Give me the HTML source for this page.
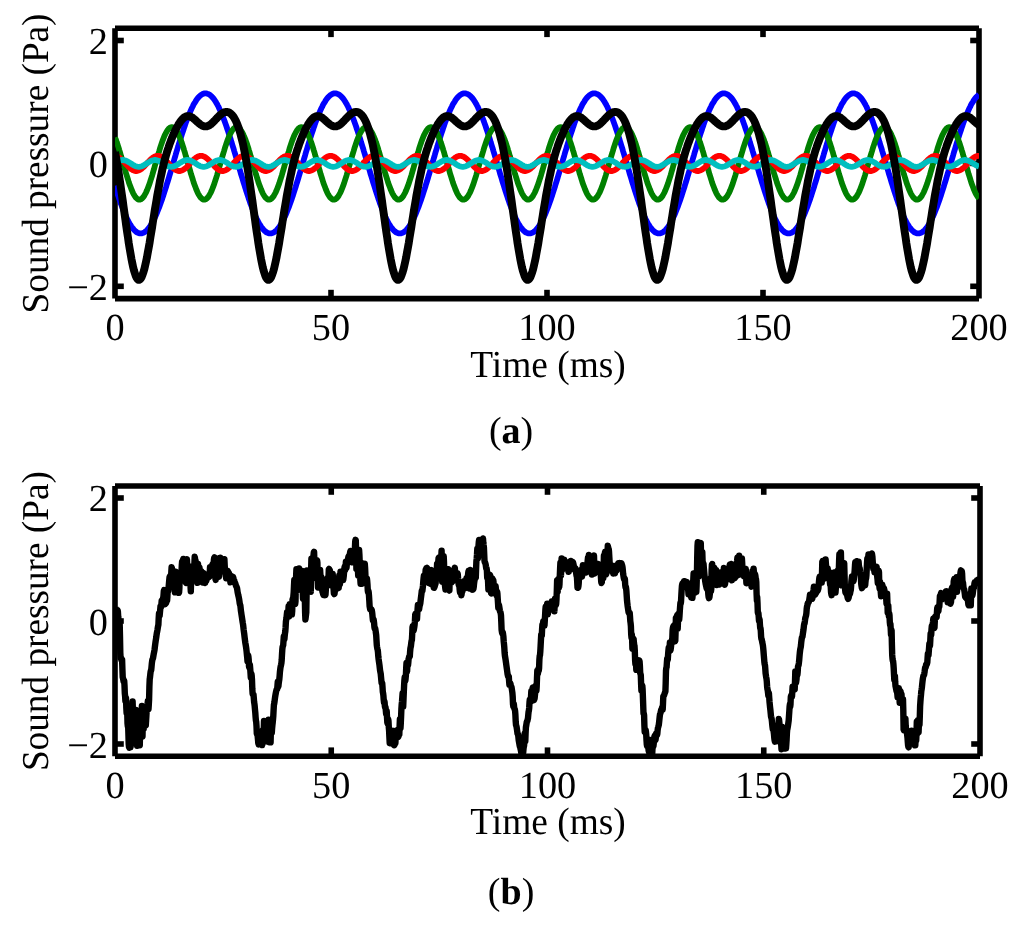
<!DOCTYPE html>
<html><head><meta charset="utf-8"><style>
html,body{margin:0;padding:0;background:#fff;}
body{width:1024px;height:932px;overflow:hidden;}
svg{display:block;will-change:transform;}
text{text-rendering:geometricPrecision;font-family:"Liberation Serif",serif;font-size:38px;fill:#000;}
</style></head><body>
<svg width="1024" height="932" viewBox="0 0 1024 932">
<g stroke="#000" stroke-width="5.60" stroke-linecap="butt"><line x1="115.0" y1="28.3" x2="979.0" y2="28.3"/><line x1="115.0" y1="298.6" x2="979.0" y2="298.6"/><line x1="115.0" y1="28.3" x2="115.0" y2="298.6"/><line x1="979.0" y1="28.3" x2="979.0" y2="298.6"/><line x1="331.00" y1="28.3" x2="331.00" y2="37.10"/><line x1="331.00" y1="298.6" x2="331.00" y2="289.80"/><line x1="547.00" y1="28.3" x2="547.00" y2="37.10"/><line x1="547.00" y1="298.6" x2="547.00" y2="289.80"/><line x1="763.00" y1="28.3" x2="763.00" y2="37.10"/><line x1="763.00" y1="298.6" x2="763.00" y2="289.80"/><line x1="115.0" y1="286.30" x2="123.80" y2="286.30"/><line x1="979.0" y1="286.30" x2="970.20" y2="286.30"/><line x1="115.0" y1="163.40" x2="123.80" y2="163.40"/><line x1="979.0" y1="163.40" x2="970.20" y2="163.40"/><line x1="115.0" y1="40.50" x2="123.80" y2="40.50"/><line x1="979.0" y1="40.50" x2="970.20" y2="40.50"/></g>
<defs><clipPath id="ct"><rect x="115.0" y="28.3" width="864.0" height="270.3"/></clipPath><clipPath id="cb"><rect x="115.0" y="486.0" width="865.0" height="270.20000000000005"/></clipPath></defs>
<g clip-path="url(#ct)"><path d="M115.0,185.7 L115.9,188.5 L116.7,191.2 L117.6,193.9 L118.5,196.5 L119.3,199.1 L120.2,201.6 L121.0,204.0 L121.9,206.3 L122.8,208.6 L123.6,210.8 L124.5,212.9 L125.4,215.0 L126.2,216.9 L127.1,218.8 L128.0,220.5 L128.8,222.2 L129.7,223.7 L130.6,225.1 L131.4,226.5 L132.3,227.7 L133.1,228.8 L134.0,229.8 L134.9,230.7 L135.7,231.4 L136.6,232.1 L137.5,232.6 L138.3,233.0 L139.2,233.3 L140.1,233.4 L140.9,233.4 L141.8,233.4 L142.6,233.1 L143.5,232.8 L144.4,232.3 L145.2,231.8 L146.1,231.1 L147.0,230.2 L147.8,229.3 L148.7,228.3 L149.6,227.1 L150.4,225.8 L151.3,224.4 L152.2,222.9 L153.0,221.3 L153.9,219.6 L154.7,217.8 L155.6,215.9 L156.5,214.0 L157.3,211.9 L158.2,209.7 L159.1,207.5 L159.9,205.2 L160.8,202.8 L161.7,200.3 L162.5,197.8 L163.4,195.2 L164.2,192.6 L165.1,189.9 L166.0,187.1 L166.8,184.3 L167.7,181.5 L168.6,178.7 L169.4,175.8 L170.3,172.9 L171.2,170.0 L172.0,167.1 L172.9,164.1 L173.8,161.2 L174.6,158.3 L175.5,155.3 L176.3,152.4 L177.2,149.6 L178.1,146.7 L178.9,143.9 L179.8,141.1 L180.7,138.3 L181.5,135.6 L182.4,132.9 L183.3,130.3 L184.1,127.7 L185.0,125.2 L185.8,122.8 L186.7,120.5 L187.6,118.2 L188.4,116.0 L189.3,113.9 L190.2,111.8 L191.0,109.9 L191.9,108.0 L192.8,106.3 L193.6,104.6 L194.5,103.1 L195.4,101.7 L196.2,100.3 L197.1,99.1 L197.9,98.0 L198.8,97.0 L199.7,96.1 L200.5,95.4 L201.4,94.7 L202.3,94.2 L203.1,93.8 L204.0,93.5 L204.9,93.4 L205.7,93.4 L206.6,93.4 L207.4,93.7 L208.3,94.0 L209.2,94.5 L210.0,95.0 L210.9,95.7 L211.8,96.6 L212.6,97.5 L213.5,98.5 L214.4,99.7 L215.2,101.0 L216.1,102.4 L217.0,103.9 L217.8,105.5 L218.7,107.2 L219.5,109.0 L220.4,110.9 L221.3,112.8 L222.1,114.9 L223.0,117.1 L223.9,119.3 L224.7,121.6 L225.6,124.0 L226.5,126.5 L227.3,129.0 L228.2,131.6 L229.0,134.2 L229.9,136.9 L230.8,139.7 L231.6,142.5 L232.5,145.3 L233.4,148.1 L234.2,151.0 L235.1,153.9 L236.0,156.8 L236.8,159.7 L237.7,162.7 L238.6,165.6 L239.4,168.5 L240.3,171.5 L241.1,174.4 L242.0,177.2 L242.9,180.1 L243.7,182.9 L244.6,185.7 L245.5,188.5 L246.3,191.2 L247.2,193.9 L248.1,196.5 L248.9,199.1 L249.8,201.6 L250.6,204.0 L251.5,206.3 L252.4,208.6 L253.2,210.8 L254.1,212.9 L255.0,215.0 L255.8,216.9 L256.7,218.8 L257.6,220.5 L258.4,222.2 L259.3,223.7 L260.2,225.1 L261.0,226.5 L261.9,227.7 L262.7,228.8 L263.6,229.8 L264.5,230.7 L265.3,231.4 L266.2,232.1 L267.1,232.6 L267.9,233.0 L268.8,233.3 L269.7,233.4 L270.5,233.4 L271.4,233.4 L272.2,233.1 L273.1,232.8 L274.0,232.3 L274.8,231.8 L275.7,231.1 L276.6,230.2 L277.4,229.3 L278.3,228.3 L279.2,227.1 L280.0,225.8 L280.9,224.4 L281.8,222.9 L282.6,221.3 L283.5,219.6 L284.3,217.8 L285.2,215.9 L286.1,214.0 L286.9,211.9 L287.8,209.7 L288.7,207.5 L289.5,205.2 L290.4,202.8 L291.3,200.3 L292.1,197.8 L293.0,195.2 L293.8,192.6 L294.7,189.9 L295.6,187.1 L296.4,184.3 L297.3,181.5 L298.2,178.7 L299.0,175.8 L299.9,172.9 L300.8,170.0 L301.6,167.1 L302.5,164.1 L303.4,161.2 L304.2,158.3 L305.1,155.3 L305.9,152.4 L306.8,149.6 L307.7,146.7 L308.5,143.9 L309.4,141.1 L310.3,138.3 L311.1,135.6 L312.0,132.9 L312.9,130.3 L313.7,127.7 L314.6,125.2 L315.4,122.8 L316.3,120.5 L317.2,118.2 L318.0,116.0 L318.9,113.9 L319.8,111.8 L320.6,109.9 L321.5,108.0 L322.4,106.3 L323.2,104.6 L324.1,103.1 L325.0,101.7 L325.8,100.3 L326.7,99.1 L327.5,98.0 L328.4,97.0 L329.3,96.1 L330.1,95.4 L331.0,94.7 L331.9,94.2 L332.7,93.8 L333.6,93.5 L334.5,93.4 L335.3,93.4 L336.2,93.4 L337.0,93.7 L337.9,94.0 L338.8,94.5 L339.6,95.0 L340.5,95.7 L341.4,96.6 L342.2,97.5 L343.1,98.5 L344.0,99.7 L344.8,101.0 L345.7,102.4 L346.6,103.9 L347.4,105.5 L348.3,107.2 L349.1,109.0 L350.0,110.9 L350.9,112.8 L351.7,114.9 L352.6,117.1 L353.5,119.3 L354.3,121.6 L355.2,124.0 L356.1,126.5 L356.9,129.0 L357.8,131.6 L358.6,134.2 L359.5,136.9 L360.4,139.7 L361.2,142.5 L362.1,145.3 L363.0,148.1 L363.8,151.0 L364.7,153.9 L365.6,156.8 L366.4,159.7 L367.3,162.7 L368.2,165.6 L369.0,168.5 L369.9,171.5 L370.7,174.4 L371.6,177.2 L372.5,180.1 L373.3,182.9 L374.2,185.7 L375.1,188.5 L375.9,191.2 L376.8,193.9 L377.7,196.5 L378.5,199.1 L379.4,201.6 L380.2,204.0 L381.1,206.3 L382.0,208.6 L382.8,210.8 L383.7,212.9 L384.6,215.0 L385.4,216.9 L386.3,218.8 L387.2,220.5 L388.0,222.2 L388.9,223.7 L389.8,225.1 L390.6,226.5 L391.5,227.7 L392.3,228.8 L393.2,229.8 L394.1,230.7 L394.9,231.4 L395.8,232.1 L396.7,232.6 L397.5,233.0 L398.4,233.3 L399.3,233.4 L400.1,233.4 L401.0,233.4 L401.8,233.1 L402.7,232.8 L403.6,232.3 L404.4,231.8 L405.3,231.1 L406.2,230.2 L407.0,229.3 L407.9,228.3 L408.8,227.1 L409.6,225.8 L410.5,224.4 L411.4,222.9 L412.2,221.3 L413.1,219.6 L413.9,217.8 L414.8,215.9 L415.7,214.0 L416.5,211.9 L417.4,209.7 L418.3,207.5 L419.1,205.2 L420.0,202.8 L420.9,200.3 L421.7,197.8 L422.6,195.2 L423.4,192.6 L424.3,189.9 L425.2,187.1 L426.0,184.3 L426.9,181.5 L427.8,178.7 L428.6,175.8 L429.5,172.9 L430.4,170.0 L431.2,167.1 L432.1,164.1 L433.0,161.2 L433.8,158.3 L434.7,155.3 L435.5,152.4 L436.4,149.6 L437.3,146.7 L438.1,143.9 L439.0,141.1 L439.9,138.3 L440.7,135.6 L441.6,132.9 L442.5,130.3 L443.3,127.7 L444.2,125.2 L445.0,122.8 L445.9,120.5 L446.8,118.2 L447.6,116.0 L448.5,113.9 L449.4,111.8 L450.2,109.9 L451.1,108.0 L452.0,106.3 L452.8,104.6 L453.7,103.1 L454.6,101.7 L455.4,100.3 L456.3,99.1 L457.1,98.0 L458.0,97.0 L458.9,96.1 L459.7,95.4 L460.6,94.7 L461.5,94.2 L462.3,93.8 L463.2,93.5 L464.1,93.4 L464.9,93.4 L465.8,93.4 L466.6,93.7 L467.5,94.0 L468.4,94.5 L469.2,95.0 L470.1,95.7 L471.0,96.6 L471.8,97.5 L472.7,98.5 L473.6,99.7 L474.4,101.0 L475.3,102.4 L476.2,103.9 L477.0,105.5 L477.9,107.2 L478.7,109.0 L479.6,110.9 L480.5,112.8 L481.3,114.9 L482.2,117.1 L483.1,119.3 L483.9,121.6 L484.8,124.0 L485.7,126.5 L486.5,129.0 L487.4,131.6 L488.2,134.2 L489.1,136.9 L490.0,139.7 L490.8,142.5 L491.7,145.3 L492.6,148.1 L493.4,151.0 L494.3,153.9 L495.2,156.8 L496.0,159.7 L496.9,162.7 L497.8,165.6 L498.6,168.5 L499.5,171.5 L500.3,174.4 L501.2,177.2 L502.1,180.1 L502.9,182.9 L503.8,185.7 L504.7,188.5 L505.5,191.2 L506.4,193.9 L507.3,196.5 L508.1,199.1 L509.0,201.6 L509.8,204.0 L510.7,206.3 L511.6,208.6 L512.4,210.8 L513.3,212.9 L514.2,215.0 L515.0,216.9 L515.9,218.8 L516.8,220.5 L517.6,222.2 L518.5,223.7 L519.4,225.1 L520.2,226.5 L521.1,227.7 L521.9,228.8 L522.8,229.8 L523.7,230.7 L524.5,231.4 L525.4,232.1 L526.3,232.6 L527.1,233.0 L528.0,233.3 L528.9,233.4 L529.7,233.4 L530.6,233.4 L531.4,233.1 L532.3,232.8 L533.2,232.3 L534.0,231.8 L534.9,231.1 L535.8,230.2 L536.6,229.3 L537.5,228.3 L538.4,227.1 L539.2,225.8 L540.1,224.4 L541.0,222.9 L541.8,221.3 L542.7,219.6 L543.5,217.8 L544.4,215.9 L545.3,214.0 L546.1,211.9 L547.0,209.7 L547.9,207.5 L548.7,205.2 L549.6,202.8 L550.5,200.3 L551.3,197.8 L552.2,195.2 L553.0,192.6 L553.9,189.9 L554.8,187.1 L555.6,184.3 L556.5,181.5 L557.4,178.7 L558.2,175.8 L559.1,172.9 L560.0,170.0 L560.8,167.1 L561.7,164.1 L562.6,161.2 L563.4,158.3 L564.3,155.3 L565.1,152.4 L566.0,149.6 L566.9,146.7 L567.7,143.9 L568.6,141.1 L569.5,138.3 L570.3,135.6 L571.2,132.9 L572.1,130.3 L572.9,127.7 L573.8,125.2 L574.6,122.8 L575.5,120.5 L576.4,118.2 L577.2,116.0 L578.1,113.9 L579.0,111.8 L579.8,109.9 L580.7,108.0 L581.6,106.3 L582.4,104.6 L583.3,103.1 L584.2,101.7 L585.0,100.3 L585.9,99.1 L586.7,98.0 L587.6,97.0 L588.5,96.1 L589.3,95.4 L590.2,94.7 L591.1,94.2 L591.9,93.8 L592.8,93.5 L593.7,93.4 L594.5,93.4 L595.4,93.4 L596.2,93.7 L597.1,94.0 L598.0,94.5 L598.8,95.0 L599.7,95.7 L600.6,96.6 L601.4,97.5 L602.3,98.5 L603.2,99.7 L604.0,101.0 L604.9,102.4 L605.8,103.9 L606.6,105.5 L607.5,107.2 L608.3,109.0 L609.2,110.9 L610.1,112.8 L610.9,114.9 L611.8,117.1 L612.7,119.3 L613.5,121.6 L614.4,124.0 L615.3,126.5 L616.1,129.0 L617.0,131.6 L617.8,134.2 L618.7,136.9 L619.6,139.7 L620.4,142.5 L621.3,145.3 L622.2,148.1 L623.0,151.0 L623.9,153.9 L624.8,156.8 L625.6,159.7 L626.5,162.7 L627.4,165.6 L628.2,168.5 L629.1,171.5 L629.9,174.4 L630.8,177.2 L631.7,180.1 L632.5,182.9 L633.4,185.7 L634.3,188.5 L635.1,191.2 L636.0,193.9 L636.9,196.5 L637.7,199.1 L638.6,201.6 L639.4,204.0 L640.3,206.3 L641.2,208.6 L642.0,210.8 L642.9,212.9 L643.8,215.0 L644.6,216.9 L645.5,218.8 L646.4,220.5 L647.2,222.2 L648.1,223.7 L649.0,225.1 L649.8,226.5 L650.7,227.7 L651.5,228.8 L652.4,229.8 L653.3,230.7 L654.1,231.4 L655.0,232.1 L655.9,232.6 L656.7,233.0 L657.6,233.3 L658.5,233.4 L659.3,233.4 L660.2,233.4 L661.0,233.1 L661.9,232.8 L662.8,232.3 L663.6,231.8 L664.5,231.1 L665.4,230.2 L666.2,229.3 L667.1,228.3 L668.0,227.1 L668.8,225.8 L669.7,224.4 L670.6,222.9 L671.4,221.3 L672.3,219.6 L673.1,217.8 L674.0,215.9 L674.9,214.0 L675.7,211.9 L676.6,209.7 L677.5,207.5 L678.3,205.2 L679.2,202.8 L680.1,200.3 L680.9,197.8 L681.8,195.2 L682.6,192.6 L683.5,189.9 L684.4,187.1 L685.2,184.3 L686.1,181.5 L687.0,178.7 L687.8,175.8 L688.7,172.9 L689.6,170.0 L690.4,167.1 L691.3,164.1 L692.2,161.2 L693.0,158.3 L693.9,155.3 L694.7,152.4 L695.6,149.6 L696.5,146.7 L697.3,143.9 L698.2,141.1 L699.1,138.3 L699.9,135.6 L700.8,132.9 L701.7,130.3 L702.5,127.7 L703.4,125.2 L704.2,122.8 L705.1,120.5 L706.0,118.2 L706.8,116.0 L707.7,113.9 L708.6,111.8 L709.4,109.9 L710.3,108.0 L711.2,106.3 L712.0,104.6 L712.9,103.1 L713.8,101.7 L714.6,100.3 L715.5,99.1 L716.3,98.0 L717.2,97.0 L718.1,96.1 L718.9,95.4 L719.8,94.7 L720.7,94.2 L721.5,93.8 L722.4,93.5 L723.3,93.4 L724.1,93.4 L725.0,93.4 L725.8,93.7 L726.7,94.0 L727.6,94.5 L728.4,95.0 L729.3,95.7 L730.2,96.6 L731.0,97.5 L731.9,98.5 L732.8,99.7 L733.6,101.0 L734.5,102.4 L735.4,103.9 L736.2,105.5 L737.1,107.2 L737.9,109.0 L738.8,110.9 L739.7,112.8 L740.5,114.9 L741.4,117.1 L742.3,119.3 L743.1,121.6 L744.0,124.0 L744.9,126.5 L745.7,129.0 L746.6,131.6 L747.4,134.2 L748.3,136.9 L749.2,139.7 L750.0,142.5 L750.9,145.3 L751.8,148.1 L752.6,151.0 L753.5,153.9 L754.4,156.8 L755.2,159.7 L756.1,162.7 L757.0,165.6 L757.8,168.5 L758.7,171.5 L759.5,174.4 L760.4,177.2 L761.3,180.1 L762.1,182.9 L763.0,185.7 L763.9,188.5 L764.7,191.2 L765.6,193.9 L766.5,196.5 L767.3,199.1 L768.2,201.6 L769.0,204.0 L769.9,206.3 L770.8,208.6 L771.6,210.8 L772.5,212.9 L773.4,215.0 L774.2,216.9 L775.1,218.8 L776.0,220.5 L776.8,222.2 L777.7,223.7 L778.6,225.1 L779.4,226.5 L780.3,227.7 L781.1,228.8 L782.0,229.8 L782.9,230.7 L783.7,231.4 L784.6,232.1 L785.5,232.6 L786.3,233.0 L787.2,233.3 L788.1,233.4 L788.9,233.4 L789.8,233.4 L790.6,233.1 L791.5,232.8 L792.4,232.3 L793.2,231.8 L794.1,231.1 L795.0,230.2 L795.8,229.3 L796.7,228.3 L797.6,227.1 L798.4,225.8 L799.3,224.4 L800.2,222.9 L801.0,221.3 L801.9,219.6 L802.7,217.8 L803.6,215.9 L804.5,214.0 L805.3,211.9 L806.2,209.7 L807.1,207.5 L807.9,205.2 L808.8,202.8 L809.7,200.3 L810.5,197.8 L811.4,195.2 L812.2,192.6 L813.1,189.9 L814.0,187.1 L814.8,184.3 L815.7,181.5 L816.6,178.7 L817.4,175.8 L818.3,172.9 L819.2,170.0 L820.0,167.1 L820.9,164.1 L821.8,161.2 L822.6,158.3 L823.5,155.3 L824.3,152.4 L825.2,149.6 L826.1,146.7 L826.9,143.9 L827.8,141.1 L828.7,138.3 L829.5,135.6 L830.4,132.9 L831.3,130.3 L832.1,127.7 L833.0,125.2 L833.8,122.8 L834.7,120.5 L835.6,118.2 L836.4,116.0 L837.3,113.9 L838.2,111.8 L839.0,109.9 L839.9,108.0 L840.8,106.3 L841.6,104.6 L842.5,103.1 L843.4,101.7 L844.2,100.3 L845.1,99.1 L845.9,98.0 L846.8,97.0 L847.7,96.1 L848.5,95.4 L849.4,94.7 L850.3,94.2 L851.1,93.8 L852.0,93.5 L852.9,93.4 L853.7,93.4 L854.6,93.4 L855.4,93.7 L856.3,94.0 L857.2,94.5 L858.0,95.0 L858.9,95.7 L859.8,96.6 L860.6,97.5 L861.5,98.5 L862.4,99.7 L863.2,101.0 L864.1,102.4 L865.0,103.9 L865.8,105.5 L866.7,107.2 L867.5,109.0 L868.4,110.9 L869.3,112.8 L870.1,114.9 L871.0,117.1 L871.9,119.3 L872.7,121.6 L873.6,124.0 L874.5,126.5 L875.3,129.0 L876.2,131.6 L877.0,134.2 L877.9,136.9 L878.8,139.7 L879.6,142.5 L880.5,145.3 L881.4,148.1 L882.2,151.0 L883.1,153.9 L884.0,156.8 L884.8,159.7 L885.7,162.7 L886.6,165.6 L887.4,168.5 L888.3,171.5 L889.1,174.4 L890.0,177.2 L890.9,180.1 L891.7,182.9 L892.6,185.7 L893.5,188.5 L894.3,191.2 L895.2,193.9 L896.1,196.5 L896.9,199.1 L897.8,201.6 L898.6,204.0 L899.5,206.3 L900.4,208.6 L901.2,210.8 L902.1,212.9 L903.0,215.0 L903.8,216.9 L904.7,218.8 L905.6,220.5 L906.4,222.2 L907.3,223.7 L908.2,225.1 L909.0,226.5 L909.9,227.7 L910.7,228.8 L911.6,229.8 L912.5,230.7 L913.3,231.4 L914.2,232.1 L915.1,232.6 L915.9,233.0 L916.8,233.3 L917.7,233.4 L918.5,233.4 L919.4,233.4 L920.2,233.1 L921.1,232.8 L922.0,232.3 L922.8,231.8 L923.7,231.1 L924.6,230.2 L925.4,229.3 L926.3,228.3 L927.2,227.1 L928.0,225.8 L928.9,224.4 L929.8,222.9 L930.6,221.3 L931.5,219.6 L932.3,217.8 L933.2,215.9 L934.1,214.0 L934.9,211.9 L935.8,209.7 L936.7,207.5 L937.5,205.2 L938.4,202.8 L939.3,200.3 L940.1,197.8 L941.0,195.2 L941.8,192.6 L942.7,189.9 L943.6,187.1 L944.4,184.3 L945.3,181.5 L946.2,178.7 L947.0,175.8 L947.9,172.9 L948.8,170.0 L949.6,167.1 L950.5,164.1 L951.4,161.2 L952.2,158.3 L953.1,155.3 L953.9,152.4 L954.8,149.6 L955.7,146.7 L956.5,143.9 L957.4,141.1 L958.3,138.3 L959.1,135.6 L960.0,132.9 L960.9,130.3 L961.7,127.7 L962.6,125.2 L963.4,122.8 L964.3,120.5 L965.2,118.2 L966.0,116.0 L966.9,113.9 L967.8,111.8 L968.6,109.9 L969.5,108.0 L970.4,106.3 L971.2,104.6 L972.1,103.1 L973.0,101.7 L973.8,100.3 L974.7,99.1 L975.5,98.0 L976.4,97.0 L977.3,96.1 L978.1,95.4 L979.0,94.7" fill="none" stroke="#0000ff" stroke-width="5.8" stroke-linejoin="round"/>
<path d="M115.0,137.5 L115.9,139.7 L116.7,142.1 L117.6,144.6 L118.5,147.3 L119.3,150.1 L120.2,152.9 L121.0,155.9 L121.9,158.9 L122.8,161.9 L123.6,164.9 L124.5,167.9 L125.4,170.9 L126.2,173.9 L127.1,176.7 L128.0,179.5 L128.8,182.2 L129.7,184.7 L130.6,187.1 L131.4,189.3 L132.3,191.3 L133.1,193.2 L134.0,194.8 L134.9,196.2 L135.7,197.4 L136.6,198.3 L137.5,199.0 L138.3,199.5 L139.2,199.6 L140.1,199.6 L140.9,199.3 L141.8,198.7 L142.6,197.9 L143.5,196.8 L144.4,195.5 L145.2,194.0 L146.1,192.3 L147.0,190.3 L147.8,188.2 L148.7,185.9 L149.6,183.5 L150.4,180.9 L151.3,178.1 L152.2,175.3 L153.0,172.4 L153.9,169.4 L154.7,166.4 L155.6,163.4 L156.5,160.4 L157.3,157.4 L158.2,154.4 L159.1,151.5 L159.9,148.7 L160.8,145.9 L161.7,143.3 L162.5,140.9 L163.4,138.6 L164.2,136.5 L165.1,134.5 L166.0,132.8 L166.8,131.3 L167.7,130.0 L168.6,128.9 L169.4,128.1 L170.3,127.5 L171.2,127.2 L172.0,127.2 L172.9,127.3 L173.8,127.8 L174.6,128.5 L175.5,129.4 L176.3,130.6 L177.2,132.0 L178.1,133.6 L178.9,135.5 L179.8,137.5 L180.7,139.7 L181.5,142.1 L182.4,144.6 L183.3,147.3 L184.1,150.1 L185.0,152.9 L185.8,155.9 L186.7,158.9 L187.6,161.9 L188.4,164.9 L189.3,167.9 L190.2,170.9 L191.0,173.9 L191.9,176.7 L192.8,179.5 L193.6,182.2 L194.5,184.7 L195.4,187.1 L196.2,189.3 L197.1,191.3 L197.9,193.2 L198.8,194.8 L199.7,196.2 L200.5,197.4 L201.4,198.3 L202.3,199.0 L203.1,199.5 L204.0,199.6 L204.9,199.6 L205.7,199.3 L206.6,198.7 L207.4,197.9 L208.3,196.8 L209.2,195.5 L210.0,194.0 L210.9,192.3 L211.8,190.3 L212.6,188.2 L213.5,185.9 L214.4,183.5 L215.2,180.9 L216.1,178.1 L217.0,175.3 L217.8,172.4 L218.7,169.4 L219.5,166.4 L220.4,163.4 L221.3,160.4 L222.1,157.4 L223.0,154.4 L223.9,151.5 L224.7,148.7 L225.6,145.9 L226.5,143.3 L227.3,140.9 L228.2,138.6 L229.0,136.5 L229.9,134.5 L230.8,132.8 L231.6,131.3 L232.5,130.0 L233.4,128.9 L234.2,128.1 L235.1,127.5 L236.0,127.2 L236.8,127.2 L237.7,127.3 L238.6,127.8 L239.4,128.5 L240.3,129.4 L241.1,130.6 L242.0,132.0 L242.9,133.6 L243.7,135.5 L244.6,137.5 L245.5,139.7 L246.3,142.1 L247.2,144.6 L248.1,147.3 L248.9,150.1 L249.8,152.9 L250.6,155.9 L251.5,158.9 L252.4,161.9 L253.2,164.9 L254.1,167.9 L255.0,170.9 L255.8,173.9 L256.7,176.7 L257.6,179.5 L258.4,182.2 L259.3,184.7 L260.2,187.1 L261.0,189.3 L261.9,191.3 L262.7,193.2 L263.6,194.8 L264.5,196.2 L265.3,197.4 L266.2,198.3 L267.1,199.0 L267.9,199.5 L268.8,199.6 L269.7,199.6 L270.5,199.3 L271.4,198.7 L272.2,197.9 L273.1,196.8 L274.0,195.5 L274.8,194.0 L275.7,192.3 L276.6,190.3 L277.4,188.2 L278.3,185.9 L279.2,183.5 L280.0,180.9 L280.9,178.1 L281.8,175.3 L282.6,172.4 L283.5,169.4 L284.3,166.4 L285.2,163.4 L286.1,160.4 L286.9,157.4 L287.8,154.4 L288.7,151.5 L289.5,148.7 L290.4,145.9 L291.3,143.3 L292.1,140.9 L293.0,138.6 L293.8,136.5 L294.7,134.5 L295.6,132.8 L296.4,131.3 L297.3,130.0 L298.2,128.9 L299.0,128.1 L299.9,127.5 L300.8,127.2 L301.6,127.2 L302.5,127.3 L303.4,127.8 L304.2,128.5 L305.1,129.4 L305.9,130.6 L306.8,132.0 L307.7,133.6 L308.5,135.5 L309.4,137.5 L310.3,139.7 L311.1,142.1 L312.0,144.6 L312.9,147.3 L313.7,150.1 L314.6,152.9 L315.4,155.9 L316.3,158.9 L317.2,161.9 L318.0,164.9 L318.9,167.9 L319.8,170.9 L320.6,173.9 L321.5,176.7 L322.4,179.5 L323.2,182.2 L324.1,184.7 L325.0,187.1 L325.8,189.3 L326.7,191.3 L327.5,193.2 L328.4,194.8 L329.3,196.2 L330.1,197.4 L331.0,198.3 L331.9,199.0 L332.7,199.5 L333.6,199.6 L334.5,199.6 L335.3,199.3 L336.2,198.7 L337.0,197.9 L337.9,196.8 L338.8,195.5 L339.6,194.0 L340.5,192.3 L341.4,190.3 L342.2,188.2 L343.1,185.9 L344.0,183.5 L344.8,180.9 L345.7,178.1 L346.6,175.3 L347.4,172.4 L348.3,169.4 L349.1,166.4 L350.0,163.4 L350.9,160.4 L351.7,157.4 L352.6,154.4 L353.5,151.5 L354.3,148.7 L355.2,145.9 L356.1,143.3 L356.9,140.9 L357.8,138.6 L358.6,136.5 L359.5,134.5 L360.4,132.8 L361.2,131.3 L362.1,130.0 L363.0,128.9 L363.8,128.1 L364.7,127.5 L365.6,127.2 L366.4,127.2 L367.3,127.3 L368.2,127.8 L369.0,128.5 L369.9,129.4 L370.7,130.6 L371.6,132.0 L372.5,133.6 L373.3,135.5 L374.2,137.5 L375.1,139.7 L375.9,142.1 L376.8,144.6 L377.7,147.3 L378.5,150.1 L379.4,152.9 L380.2,155.9 L381.1,158.9 L382.0,161.9 L382.8,164.9 L383.7,167.9 L384.6,170.9 L385.4,173.9 L386.3,176.7 L387.2,179.5 L388.0,182.2 L388.9,184.7 L389.8,187.1 L390.6,189.3 L391.5,191.3 L392.3,193.2 L393.2,194.8 L394.1,196.2 L394.9,197.4 L395.8,198.3 L396.7,199.0 L397.5,199.5 L398.4,199.6 L399.3,199.6 L400.1,199.3 L401.0,198.7 L401.8,197.9 L402.7,196.8 L403.6,195.5 L404.4,194.0 L405.3,192.3 L406.2,190.3 L407.0,188.2 L407.9,185.9 L408.8,183.5 L409.6,180.9 L410.5,178.1 L411.4,175.3 L412.2,172.4 L413.1,169.4 L413.9,166.4 L414.8,163.4 L415.7,160.4 L416.5,157.4 L417.4,154.4 L418.3,151.5 L419.1,148.7 L420.0,145.9 L420.9,143.3 L421.7,140.9 L422.6,138.6 L423.4,136.5 L424.3,134.5 L425.2,132.8 L426.0,131.3 L426.9,130.0 L427.8,128.9 L428.6,128.1 L429.5,127.5 L430.4,127.2 L431.2,127.2 L432.1,127.3 L433.0,127.8 L433.8,128.5 L434.7,129.4 L435.5,130.6 L436.4,132.0 L437.3,133.6 L438.1,135.5 L439.0,137.5 L439.9,139.7 L440.7,142.1 L441.6,144.6 L442.5,147.3 L443.3,150.1 L444.2,152.9 L445.0,155.9 L445.9,158.9 L446.8,161.9 L447.6,164.9 L448.5,167.9 L449.4,170.9 L450.2,173.9 L451.1,176.7 L452.0,179.5 L452.8,182.2 L453.7,184.7 L454.6,187.1 L455.4,189.3 L456.3,191.3 L457.1,193.2 L458.0,194.8 L458.9,196.2 L459.7,197.4 L460.6,198.3 L461.5,199.0 L462.3,199.5 L463.2,199.6 L464.1,199.6 L464.9,199.3 L465.8,198.7 L466.6,197.9 L467.5,196.8 L468.4,195.5 L469.2,194.0 L470.1,192.3 L471.0,190.3 L471.8,188.2 L472.7,185.9 L473.6,183.5 L474.4,180.9 L475.3,178.1 L476.2,175.3 L477.0,172.4 L477.9,169.4 L478.7,166.4 L479.6,163.4 L480.5,160.4 L481.3,157.4 L482.2,154.4 L483.1,151.5 L483.9,148.7 L484.8,145.9 L485.7,143.3 L486.5,140.9 L487.4,138.6 L488.2,136.5 L489.1,134.5 L490.0,132.8 L490.8,131.3 L491.7,130.0 L492.6,128.9 L493.4,128.1 L494.3,127.5 L495.2,127.2 L496.0,127.2 L496.9,127.3 L497.8,127.8 L498.6,128.5 L499.5,129.4 L500.3,130.6 L501.2,132.0 L502.1,133.6 L502.9,135.5 L503.8,137.5 L504.7,139.7 L505.5,142.1 L506.4,144.6 L507.3,147.3 L508.1,150.1 L509.0,152.9 L509.8,155.9 L510.7,158.9 L511.6,161.9 L512.4,164.9 L513.3,167.9 L514.2,170.9 L515.0,173.9 L515.9,176.7 L516.8,179.5 L517.6,182.2 L518.5,184.7 L519.4,187.1 L520.2,189.3 L521.1,191.3 L521.9,193.2 L522.8,194.8 L523.7,196.2 L524.5,197.4 L525.4,198.3 L526.3,199.0 L527.1,199.5 L528.0,199.6 L528.9,199.6 L529.7,199.3 L530.6,198.7 L531.4,197.9 L532.3,196.8 L533.2,195.5 L534.0,194.0 L534.9,192.3 L535.8,190.3 L536.6,188.2 L537.5,185.9 L538.4,183.5 L539.2,180.9 L540.1,178.1 L541.0,175.3 L541.8,172.4 L542.7,169.4 L543.5,166.4 L544.4,163.4 L545.3,160.4 L546.1,157.4 L547.0,154.4 L547.9,151.5 L548.7,148.7 L549.6,145.9 L550.5,143.3 L551.3,140.9 L552.2,138.6 L553.0,136.5 L553.9,134.5 L554.8,132.8 L555.6,131.3 L556.5,130.0 L557.4,128.9 L558.2,128.1 L559.1,127.5 L560.0,127.2 L560.8,127.2 L561.7,127.3 L562.6,127.8 L563.4,128.5 L564.3,129.4 L565.1,130.6 L566.0,132.0 L566.9,133.6 L567.7,135.5 L568.6,137.5 L569.5,139.7 L570.3,142.1 L571.2,144.6 L572.1,147.3 L572.9,150.1 L573.8,152.9 L574.6,155.9 L575.5,158.9 L576.4,161.9 L577.2,164.9 L578.1,167.9 L579.0,170.9 L579.8,173.9 L580.7,176.7 L581.6,179.5 L582.4,182.2 L583.3,184.7 L584.2,187.1 L585.0,189.3 L585.9,191.3 L586.7,193.2 L587.6,194.8 L588.5,196.2 L589.3,197.4 L590.2,198.3 L591.1,199.0 L591.9,199.5 L592.8,199.6 L593.7,199.6 L594.5,199.3 L595.4,198.7 L596.2,197.9 L597.1,196.8 L598.0,195.5 L598.8,194.0 L599.7,192.3 L600.6,190.3 L601.4,188.2 L602.3,185.9 L603.2,183.5 L604.0,180.9 L604.9,178.1 L605.8,175.3 L606.6,172.4 L607.5,169.4 L608.3,166.4 L609.2,163.4 L610.1,160.4 L610.9,157.4 L611.8,154.4 L612.7,151.5 L613.5,148.7 L614.4,145.9 L615.3,143.3 L616.1,140.9 L617.0,138.6 L617.8,136.5 L618.7,134.5 L619.6,132.8 L620.4,131.3 L621.3,130.0 L622.2,128.9 L623.0,128.1 L623.9,127.5 L624.8,127.2 L625.6,127.2 L626.5,127.3 L627.4,127.8 L628.2,128.5 L629.1,129.4 L629.9,130.6 L630.8,132.0 L631.7,133.6 L632.5,135.5 L633.4,137.5 L634.3,139.7 L635.1,142.1 L636.0,144.6 L636.9,147.3 L637.7,150.1 L638.6,152.9 L639.4,155.9 L640.3,158.9 L641.2,161.9 L642.0,164.9 L642.9,167.9 L643.8,170.9 L644.6,173.9 L645.5,176.7 L646.4,179.5 L647.2,182.2 L648.1,184.7 L649.0,187.1 L649.8,189.3 L650.7,191.3 L651.5,193.2 L652.4,194.8 L653.3,196.2 L654.1,197.4 L655.0,198.3 L655.9,199.0 L656.7,199.5 L657.6,199.6 L658.5,199.6 L659.3,199.3 L660.2,198.7 L661.0,197.9 L661.9,196.8 L662.8,195.5 L663.6,194.0 L664.5,192.3 L665.4,190.3 L666.2,188.2 L667.1,185.9 L668.0,183.5 L668.8,180.9 L669.7,178.1 L670.6,175.3 L671.4,172.4 L672.3,169.4 L673.1,166.4 L674.0,163.4 L674.9,160.4 L675.7,157.4 L676.6,154.4 L677.5,151.5 L678.3,148.7 L679.2,145.9 L680.1,143.3 L680.9,140.9 L681.8,138.6 L682.6,136.5 L683.5,134.5 L684.4,132.8 L685.2,131.3 L686.1,130.0 L687.0,128.9 L687.8,128.1 L688.7,127.5 L689.6,127.2 L690.4,127.2 L691.3,127.3 L692.2,127.8 L693.0,128.5 L693.9,129.4 L694.7,130.6 L695.6,132.0 L696.5,133.6 L697.3,135.5 L698.2,137.5 L699.1,139.7 L699.9,142.1 L700.8,144.6 L701.7,147.3 L702.5,150.1 L703.4,152.9 L704.2,155.9 L705.1,158.9 L706.0,161.9 L706.8,164.9 L707.7,167.9 L708.6,170.9 L709.4,173.9 L710.3,176.7 L711.2,179.5 L712.0,182.2 L712.9,184.7 L713.8,187.1 L714.6,189.3 L715.5,191.3 L716.3,193.2 L717.2,194.8 L718.1,196.2 L718.9,197.4 L719.8,198.3 L720.7,199.0 L721.5,199.5 L722.4,199.6 L723.3,199.6 L724.1,199.3 L725.0,198.7 L725.8,197.9 L726.7,196.8 L727.6,195.5 L728.4,194.0 L729.3,192.3 L730.2,190.3 L731.0,188.2 L731.9,185.9 L732.8,183.5 L733.6,180.9 L734.5,178.1 L735.4,175.3 L736.2,172.4 L737.1,169.4 L737.9,166.4 L738.8,163.4 L739.7,160.4 L740.5,157.4 L741.4,154.4 L742.3,151.5 L743.1,148.7 L744.0,145.9 L744.9,143.3 L745.7,140.9 L746.6,138.6 L747.4,136.5 L748.3,134.5 L749.2,132.8 L750.0,131.3 L750.9,130.0 L751.8,128.9 L752.6,128.1 L753.5,127.5 L754.4,127.2 L755.2,127.2 L756.1,127.3 L757.0,127.8 L757.8,128.5 L758.7,129.4 L759.5,130.6 L760.4,132.0 L761.3,133.6 L762.1,135.5 L763.0,137.5 L763.9,139.7 L764.7,142.1 L765.6,144.6 L766.5,147.3 L767.3,150.1 L768.2,152.9 L769.0,155.9 L769.9,158.9 L770.8,161.9 L771.6,164.9 L772.5,167.9 L773.4,170.9 L774.2,173.9 L775.1,176.7 L776.0,179.5 L776.8,182.2 L777.7,184.7 L778.6,187.1 L779.4,189.3 L780.3,191.3 L781.1,193.2 L782.0,194.8 L782.9,196.2 L783.7,197.4 L784.6,198.3 L785.5,199.0 L786.3,199.5 L787.2,199.6 L788.1,199.6 L788.9,199.3 L789.8,198.7 L790.6,197.9 L791.5,196.8 L792.4,195.5 L793.2,194.0 L794.1,192.3 L795.0,190.3 L795.8,188.2 L796.7,185.9 L797.6,183.5 L798.4,180.9 L799.3,178.1 L800.2,175.3 L801.0,172.4 L801.9,169.4 L802.7,166.4 L803.6,163.4 L804.5,160.4 L805.3,157.4 L806.2,154.4 L807.1,151.5 L807.9,148.7 L808.8,145.9 L809.7,143.3 L810.5,140.9 L811.4,138.6 L812.2,136.5 L813.1,134.5 L814.0,132.8 L814.8,131.3 L815.7,130.0 L816.6,128.9 L817.4,128.1 L818.3,127.5 L819.2,127.2 L820.0,127.2 L820.9,127.3 L821.8,127.8 L822.6,128.5 L823.5,129.4 L824.3,130.6 L825.2,132.0 L826.1,133.6 L826.9,135.5 L827.8,137.5 L828.7,139.7 L829.5,142.1 L830.4,144.6 L831.3,147.3 L832.1,150.1 L833.0,152.9 L833.8,155.9 L834.7,158.9 L835.6,161.9 L836.4,164.9 L837.3,167.9 L838.2,170.9 L839.0,173.9 L839.9,176.7 L840.8,179.5 L841.6,182.2 L842.5,184.7 L843.4,187.1 L844.2,189.3 L845.1,191.3 L845.9,193.2 L846.8,194.8 L847.7,196.2 L848.5,197.4 L849.4,198.3 L850.3,199.0 L851.1,199.5 L852.0,199.6 L852.9,199.6 L853.7,199.3 L854.6,198.7 L855.4,197.9 L856.3,196.8 L857.2,195.5 L858.0,194.0 L858.9,192.3 L859.8,190.3 L860.6,188.2 L861.5,185.9 L862.4,183.5 L863.2,180.9 L864.1,178.1 L865.0,175.3 L865.8,172.4 L866.7,169.4 L867.5,166.4 L868.4,163.4 L869.3,160.4 L870.1,157.4 L871.0,154.4 L871.9,151.5 L872.7,148.7 L873.6,145.9 L874.5,143.3 L875.3,140.9 L876.2,138.6 L877.0,136.5 L877.9,134.5 L878.8,132.8 L879.6,131.3 L880.5,130.0 L881.4,128.9 L882.2,128.1 L883.1,127.5 L884.0,127.2 L884.8,127.2 L885.7,127.3 L886.6,127.8 L887.4,128.5 L888.3,129.4 L889.1,130.6 L890.0,132.0 L890.9,133.6 L891.7,135.5 L892.6,137.5 L893.5,139.7 L894.3,142.1 L895.2,144.6 L896.1,147.3 L896.9,150.1 L897.8,152.9 L898.6,155.9 L899.5,158.9 L900.4,161.9 L901.2,164.9 L902.1,167.9 L903.0,170.9 L903.8,173.9 L904.7,176.7 L905.6,179.5 L906.4,182.2 L907.3,184.7 L908.2,187.1 L909.0,189.3 L909.9,191.3 L910.7,193.2 L911.6,194.8 L912.5,196.2 L913.3,197.4 L914.2,198.3 L915.1,199.0 L915.9,199.5 L916.8,199.6 L917.7,199.6 L918.5,199.3 L919.4,198.7 L920.2,197.9 L921.1,196.8 L922.0,195.5 L922.8,194.0 L923.7,192.3 L924.6,190.3 L925.4,188.2 L926.3,185.9 L927.2,183.5 L928.0,180.9 L928.9,178.1 L929.8,175.3 L930.6,172.4 L931.5,169.4 L932.3,166.4 L933.2,163.4 L934.1,160.4 L934.9,157.4 L935.8,154.4 L936.7,151.5 L937.5,148.7 L938.4,145.9 L939.3,143.3 L940.1,140.9 L941.0,138.6 L941.8,136.5 L942.7,134.5 L943.6,132.8 L944.4,131.3 L945.3,130.0 L946.2,128.9 L947.0,128.1 L947.9,127.5 L948.8,127.2 L949.6,127.2 L950.5,127.3 L951.4,127.8 L952.2,128.5 L953.1,129.4 L953.9,130.6 L954.8,132.0 L955.7,133.6 L956.5,135.5 L957.4,137.5 L958.3,139.7 L959.1,142.1 L960.0,144.6 L960.9,147.3 L961.7,150.1 L962.6,152.9 L963.4,155.9 L964.3,158.9 L965.2,161.9 L966.0,164.9 L966.9,167.9 L967.8,170.9 L968.6,173.9 L969.5,176.7 L970.4,179.5 L971.2,182.2 L972.1,184.7 L973.0,187.1 L973.8,189.3 L974.7,191.3 L975.5,193.2 L976.4,194.8 L977.3,196.2 L978.1,197.4 L979.0,198.3" fill="none" stroke="#008000" stroke-width="5.8" stroke-linejoin="round"/>
<path d="M115.0,155.8 L115.9,155.9 L116.7,156.2 L117.6,156.5 L118.5,157.0 L119.3,157.5 L120.2,158.2 L121.0,158.9 L121.9,159.7 L122.8,160.6 L123.6,161.5 L124.5,162.4 L125.4,163.4 L126.2,164.4 L127.1,165.3 L128.0,166.2 L128.8,167.1 L129.7,167.9 L130.6,168.6 L131.4,169.3 L132.3,169.8 L133.1,170.3 L134.0,170.6 L134.9,170.9 L135.7,171.0 L136.6,171.0 L137.5,170.9 L138.3,170.6 L139.2,170.3 L140.1,169.8 L140.9,169.3 L141.8,168.6 L142.6,167.9 L143.5,167.1 L144.4,166.2 L145.2,165.3 L146.1,164.4 L147.0,163.4 L147.8,162.4 L148.7,161.5 L149.6,160.6 L150.4,159.7 L151.3,158.9 L152.2,158.2 L153.0,157.5 L153.9,157.0 L154.7,156.5 L155.6,156.2 L156.5,155.9 L157.3,155.8 L158.2,155.8 L159.1,155.9 L159.9,156.2 L160.8,156.5 L161.7,157.0 L162.5,157.5 L163.4,158.2 L164.2,158.9 L165.1,159.7 L166.0,160.6 L166.8,161.5 L167.7,162.4 L168.6,163.4 L169.4,164.4 L170.3,165.3 L171.2,166.2 L172.0,167.1 L172.9,167.9 L173.8,168.6 L174.6,169.3 L175.5,169.8 L176.3,170.3 L177.2,170.6 L178.1,170.9 L178.9,171.0 L179.8,171.0 L180.7,170.9 L181.5,170.6 L182.4,170.3 L183.3,169.8 L184.1,169.3 L185.0,168.6 L185.8,167.9 L186.7,167.1 L187.6,166.2 L188.4,165.3 L189.3,164.4 L190.2,163.4 L191.0,162.4 L191.9,161.5 L192.8,160.6 L193.6,159.7 L194.5,158.9 L195.4,158.2 L196.2,157.5 L197.1,157.0 L197.9,156.5 L198.8,156.2 L199.7,155.9 L200.5,155.8 L201.4,155.8 L202.3,155.9 L203.1,156.2 L204.0,156.5 L204.9,157.0 L205.7,157.5 L206.6,158.2 L207.4,158.9 L208.3,159.7 L209.2,160.6 L210.0,161.5 L210.9,162.4 L211.8,163.4 L212.6,164.4 L213.5,165.3 L214.4,166.2 L215.2,167.1 L216.1,167.9 L217.0,168.6 L217.8,169.3 L218.7,169.8 L219.5,170.3 L220.4,170.6 L221.3,170.9 L222.1,171.0 L223.0,171.0 L223.9,170.9 L224.7,170.6 L225.6,170.3 L226.5,169.8 L227.3,169.3 L228.2,168.6 L229.0,167.9 L229.9,167.1 L230.8,166.2 L231.6,165.3 L232.5,164.4 L233.4,163.4 L234.2,162.4 L235.1,161.5 L236.0,160.6 L236.8,159.7 L237.7,158.9 L238.6,158.2 L239.4,157.5 L240.3,157.0 L241.1,156.5 L242.0,156.2 L242.9,155.9 L243.7,155.8 L244.6,155.8 L245.5,155.9 L246.3,156.2 L247.2,156.5 L248.1,157.0 L248.9,157.5 L249.8,158.2 L250.6,158.9 L251.5,159.7 L252.4,160.6 L253.2,161.5 L254.1,162.4 L255.0,163.4 L255.8,164.4 L256.7,165.3 L257.6,166.2 L258.4,167.1 L259.3,167.9 L260.2,168.6 L261.0,169.3 L261.9,169.8 L262.7,170.3 L263.6,170.6 L264.5,170.9 L265.3,171.0 L266.2,171.0 L267.1,170.9 L267.9,170.6 L268.8,170.3 L269.7,169.8 L270.5,169.3 L271.4,168.6 L272.2,167.9 L273.1,167.1 L274.0,166.2 L274.8,165.3 L275.7,164.4 L276.6,163.4 L277.4,162.4 L278.3,161.5 L279.2,160.6 L280.0,159.7 L280.9,158.9 L281.8,158.2 L282.6,157.5 L283.5,157.0 L284.3,156.5 L285.2,156.2 L286.1,155.9 L286.9,155.8 L287.8,155.8 L288.7,155.9 L289.5,156.2 L290.4,156.5 L291.3,157.0 L292.1,157.5 L293.0,158.2 L293.8,158.9 L294.7,159.7 L295.6,160.6 L296.4,161.5 L297.3,162.4 L298.2,163.4 L299.0,164.4 L299.9,165.3 L300.8,166.2 L301.6,167.1 L302.5,167.9 L303.4,168.6 L304.2,169.3 L305.1,169.8 L305.9,170.3 L306.8,170.6 L307.7,170.9 L308.5,171.0 L309.4,171.0 L310.3,170.9 L311.1,170.6 L312.0,170.3 L312.9,169.8 L313.7,169.3 L314.6,168.6 L315.4,167.9 L316.3,167.1 L317.2,166.2 L318.0,165.3 L318.9,164.4 L319.8,163.4 L320.6,162.4 L321.5,161.5 L322.4,160.6 L323.2,159.7 L324.1,158.9 L325.0,158.2 L325.8,157.5 L326.7,157.0 L327.5,156.5 L328.4,156.2 L329.3,155.9 L330.1,155.8 L331.0,155.8 L331.9,155.9 L332.7,156.2 L333.6,156.5 L334.5,157.0 L335.3,157.5 L336.2,158.2 L337.0,158.9 L337.9,159.7 L338.8,160.6 L339.6,161.5 L340.5,162.4 L341.4,163.4 L342.2,164.4 L343.1,165.3 L344.0,166.2 L344.8,167.1 L345.7,167.9 L346.6,168.6 L347.4,169.3 L348.3,169.8 L349.1,170.3 L350.0,170.6 L350.9,170.9 L351.7,171.0 L352.6,171.0 L353.5,170.9 L354.3,170.6 L355.2,170.3 L356.1,169.8 L356.9,169.3 L357.8,168.6 L358.6,167.9 L359.5,167.1 L360.4,166.2 L361.2,165.3 L362.1,164.4 L363.0,163.4 L363.8,162.4 L364.7,161.5 L365.6,160.6 L366.4,159.7 L367.3,158.9 L368.2,158.2 L369.0,157.5 L369.9,157.0 L370.7,156.5 L371.6,156.2 L372.5,155.9 L373.3,155.8 L374.2,155.8 L375.1,155.9 L375.9,156.2 L376.8,156.5 L377.7,157.0 L378.5,157.5 L379.4,158.2 L380.2,158.9 L381.1,159.7 L382.0,160.6 L382.8,161.5 L383.7,162.4 L384.6,163.4 L385.4,164.4 L386.3,165.3 L387.2,166.2 L388.0,167.1 L388.9,167.9 L389.8,168.6 L390.6,169.3 L391.5,169.8 L392.3,170.3 L393.2,170.6 L394.1,170.9 L394.9,171.0 L395.8,171.0 L396.7,170.9 L397.5,170.6 L398.4,170.3 L399.3,169.8 L400.1,169.3 L401.0,168.6 L401.8,167.9 L402.7,167.1 L403.6,166.2 L404.4,165.3 L405.3,164.4 L406.2,163.4 L407.0,162.4 L407.9,161.5 L408.8,160.6 L409.6,159.7 L410.5,158.9 L411.4,158.2 L412.2,157.5 L413.1,157.0 L413.9,156.5 L414.8,156.2 L415.7,155.9 L416.5,155.8 L417.4,155.8 L418.3,155.9 L419.1,156.2 L420.0,156.5 L420.9,157.0 L421.7,157.5 L422.6,158.2 L423.4,158.9 L424.3,159.7 L425.2,160.6 L426.0,161.5 L426.9,162.4 L427.8,163.4 L428.6,164.4 L429.5,165.3 L430.4,166.2 L431.2,167.1 L432.1,167.9 L433.0,168.6 L433.8,169.3 L434.7,169.8 L435.5,170.3 L436.4,170.6 L437.3,170.9 L438.1,171.0 L439.0,171.0 L439.9,170.9 L440.7,170.6 L441.6,170.3 L442.5,169.8 L443.3,169.3 L444.2,168.6 L445.0,167.9 L445.9,167.1 L446.8,166.2 L447.6,165.3 L448.5,164.4 L449.4,163.4 L450.2,162.4 L451.1,161.5 L452.0,160.6 L452.8,159.7 L453.7,158.9 L454.6,158.2 L455.4,157.5 L456.3,157.0 L457.1,156.5 L458.0,156.2 L458.9,155.9 L459.7,155.8 L460.6,155.8 L461.5,155.9 L462.3,156.2 L463.2,156.5 L464.1,157.0 L464.9,157.5 L465.8,158.2 L466.6,158.9 L467.5,159.7 L468.4,160.6 L469.2,161.5 L470.1,162.4 L471.0,163.4 L471.8,164.4 L472.7,165.3 L473.6,166.2 L474.4,167.1 L475.3,167.9 L476.2,168.6 L477.0,169.3 L477.9,169.8 L478.7,170.3 L479.6,170.6 L480.5,170.9 L481.3,171.0 L482.2,171.0 L483.1,170.9 L483.9,170.6 L484.8,170.3 L485.7,169.8 L486.5,169.3 L487.4,168.6 L488.2,167.9 L489.1,167.1 L490.0,166.2 L490.8,165.3 L491.7,164.4 L492.6,163.4 L493.4,162.4 L494.3,161.5 L495.2,160.6 L496.0,159.7 L496.9,158.9 L497.8,158.2 L498.6,157.5 L499.5,157.0 L500.3,156.5 L501.2,156.2 L502.1,155.9 L502.9,155.8 L503.8,155.8 L504.7,155.9 L505.5,156.2 L506.4,156.5 L507.3,157.0 L508.1,157.5 L509.0,158.2 L509.8,158.9 L510.7,159.7 L511.6,160.6 L512.4,161.5 L513.3,162.4 L514.2,163.4 L515.0,164.4 L515.9,165.3 L516.8,166.2 L517.6,167.1 L518.5,167.9 L519.4,168.6 L520.2,169.3 L521.1,169.8 L521.9,170.3 L522.8,170.6 L523.7,170.9 L524.5,171.0 L525.4,171.0 L526.3,170.9 L527.1,170.6 L528.0,170.3 L528.9,169.8 L529.7,169.3 L530.6,168.6 L531.4,167.9 L532.3,167.1 L533.2,166.2 L534.0,165.3 L534.9,164.4 L535.8,163.4 L536.6,162.4 L537.5,161.5 L538.4,160.6 L539.2,159.7 L540.1,158.9 L541.0,158.2 L541.8,157.5 L542.7,157.0 L543.5,156.5 L544.4,156.2 L545.3,155.9 L546.1,155.8 L547.0,155.8 L547.9,155.9 L548.7,156.2 L549.6,156.5 L550.5,157.0 L551.3,157.5 L552.2,158.2 L553.0,158.9 L553.9,159.7 L554.8,160.6 L555.6,161.5 L556.5,162.4 L557.4,163.4 L558.2,164.4 L559.1,165.3 L560.0,166.2 L560.8,167.1 L561.7,167.9 L562.6,168.6 L563.4,169.3 L564.3,169.8 L565.1,170.3 L566.0,170.6 L566.9,170.9 L567.7,171.0 L568.6,171.0 L569.5,170.9 L570.3,170.6 L571.2,170.3 L572.1,169.8 L572.9,169.3 L573.8,168.6 L574.6,167.9 L575.5,167.1 L576.4,166.2 L577.2,165.3 L578.1,164.4 L579.0,163.4 L579.8,162.4 L580.7,161.5 L581.6,160.6 L582.4,159.7 L583.3,158.9 L584.2,158.2 L585.0,157.5 L585.9,157.0 L586.7,156.5 L587.6,156.2 L588.5,155.9 L589.3,155.8 L590.2,155.8 L591.1,155.9 L591.9,156.2 L592.8,156.5 L593.7,157.0 L594.5,157.5 L595.4,158.2 L596.2,158.9 L597.1,159.7 L598.0,160.6 L598.8,161.5 L599.7,162.4 L600.6,163.4 L601.4,164.4 L602.3,165.3 L603.2,166.2 L604.0,167.1 L604.9,167.9 L605.8,168.6 L606.6,169.3 L607.5,169.8 L608.3,170.3 L609.2,170.6 L610.1,170.9 L610.9,171.0 L611.8,171.0 L612.7,170.9 L613.5,170.6 L614.4,170.3 L615.3,169.8 L616.1,169.3 L617.0,168.6 L617.8,167.9 L618.7,167.1 L619.6,166.2 L620.4,165.3 L621.3,164.4 L622.2,163.4 L623.0,162.4 L623.9,161.5 L624.8,160.6 L625.6,159.7 L626.5,158.9 L627.4,158.2 L628.2,157.5 L629.1,157.0 L629.9,156.5 L630.8,156.2 L631.7,155.9 L632.5,155.8 L633.4,155.8 L634.3,155.9 L635.1,156.2 L636.0,156.5 L636.9,157.0 L637.7,157.5 L638.6,158.2 L639.4,158.9 L640.3,159.7 L641.2,160.6 L642.0,161.5 L642.9,162.4 L643.8,163.4 L644.6,164.4 L645.5,165.3 L646.4,166.2 L647.2,167.1 L648.1,167.9 L649.0,168.6 L649.8,169.3 L650.7,169.8 L651.5,170.3 L652.4,170.6 L653.3,170.9 L654.1,171.0 L655.0,171.0 L655.9,170.9 L656.7,170.6 L657.6,170.3 L658.5,169.8 L659.3,169.3 L660.2,168.6 L661.0,167.9 L661.9,167.1 L662.8,166.2 L663.6,165.3 L664.5,164.4 L665.4,163.4 L666.2,162.4 L667.1,161.5 L668.0,160.6 L668.8,159.7 L669.7,158.9 L670.6,158.2 L671.4,157.5 L672.3,157.0 L673.1,156.5 L674.0,156.2 L674.9,155.9 L675.7,155.8 L676.6,155.8 L677.5,155.9 L678.3,156.2 L679.2,156.5 L680.1,157.0 L680.9,157.5 L681.8,158.2 L682.6,158.9 L683.5,159.7 L684.4,160.6 L685.2,161.5 L686.1,162.4 L687.0,163.4 L687.8,164.4 L688.7,165.3 L689.6,166.2 L690.4,167.1 L691.3,167.9 L692.2,168.6 L693.0,169.3 L693.9,169.8 L694.7,170.3 L695.6,170.6 L696.5,170.9 L697.3,171.0 L698.2,171.0 L699.1,170.9 L699.9,170.6 L700.8,170.3 L701.7,169.8 L702.5,169.3 L703.4,168.6 L704.2,167.9 L705.1,167.1 L706.0,166.2 L706.8,165.3 L707.7,164.4 L708.6,163.4 L709.4,162.4 L710.3,161.5 L711.2,160.6 L712.0,159.7 L712.9,158.9 L713.8,158.2 L714.6,157.5 L715.5,157.0 L716.3,156.5 L717.2,156.2 L718.1,155.9 L718.9,155.8 L719.8,155.8 L720.7,155.9 L721.5,156.2 L722.4,156.5 L723.3,157.0 L724.1,157.5 L725.0,158.2 L725.8,158.9 L726.7,159.7 L727.6,160.6 L728.4,161.5 L729.3,162.4 L730.2,163.4 L731.0,164.4 L731.9,165.3 L732.8,166.2 L733.6,167.1 L734.5,167.9 L735.4,168.6 L736.2,169.3 L737.1,169.8 L737.9,170.3 L738.8,170.6 L739.7,170.9 L740.5,171.0 L741.4,171.0 L742.3,170.9 L743.1,170.6 L744.0,170.3 L744.9,169.8 L745.7,169.3 L746.6,168.6 L747.4,167.9 L748.3,167.1 L749.2,166.2 L750.0,165.3 L750.9,164.4 L751.8,163.4 L752.6,162.4 L753.5,161.5 L754.4,160.6 L755.2,159.7 L756.1,158.9 L757.0,158.2 L757.8,157.5 L758.7,157.0 L759.5,156.5 L760.4,156.2 L761.3,155.9 L762.1,155.8 L763.0,155.8 L763.9,155.9 L764.7,156.2 L765.6,156.5 L766.5,157.0 L767.3,157.5 L768.2,158.2 L769.0,158.9 L769.9,159.7 L770.8,160.6 L771.6,161.5 L772.5,162.4 L773.4,163.4 L774.2,164.4 L775.1,165.3 L776.0,166.2 L776.8,167.1 L777.7,167.9 L778.6,168.6 L779.4,169.3 L780.3,169.8 L781.1,170.3 L782.0,170.6 L782.9,170.9 L783.7,171.0 L784.6,171.0 L785.5,170.9 L786.3,170.6 L787.2,170.3 L788.1,169.8 L788.9,169.3 L789.8,168.6 L790.6,167.9 L791.5,167.1 L792.4,166.2 L793.2,165.3 L794.1,164.4 L795.0,163.4 L795.8,162.4 L796.7,161.5 L797.6,160.6 L798.4,159.7 L799.3,158.9 L800.2,158.2 L801.0,157.5 L801.9,157.0 L802.7,156.5 L803.6,156.2 L804.5,155.9 L805.3,155.8 L806.2,155.8 L807.1,155.9 L807.9,156.2 L808.8,156.5 L809.7,157.0 L810.5,157.5 L811.4,158.2 L812.2,158.9 L813.1,159.7 L814.0,160.6 L814.8,161.5 L815.7,162.4 L816.6,163.4 L817.4,164.4 L818.3,165.3 L819.2,166.2 L820.0,167.1 L820.9,167.9 L821.8,168.6 L822.6,169.3 L823.5,169.8 L824.3,170.3 L825.2,170.6 L826.1,170.9 L826.9,171.0 L827.8,171.0 L828.7,170.9 L829.5,170.6 L830.4,170.3 L831.3,169.8 L832.1,169.3 L833.0,168.6 L833.8,167.9 L834.7,167.1 L835.6,166.2 L836.4,165.3 L837.3,164.4 L838.2,163.4 L839.0,162.4 L839.9,161.5 L840.8,160.6 L841.6,159.7 L842.5,158.9 L843.4,158.2 L844.2,157.5 L845.1,157.0 L845.9,156.5 L846.8,156.2 L847.7,155.9 L848.5,155.8 L849.4,155.8 L850.3,155.9 L851.1,156.2 L852.0,156.5 L852.9,157.0 L853.7,157.5 L854.6,158.2 L855.4,158.9 L856.3,159.7 L857.2,160.6 L858.0,161.5 L858.9,162.4 L859.8,163.4 L860.6,164.4 L861.5,165.3 L862.4,166.2 L863.2,167.1 L864.1,167.9 L865.0,168.6 L865.8,169.3 L866.7,169.8 L867.5,170.3 L868.4,170.6 L869.3,170.9 L870.1,171.0 L871.0,171.0 L871.9,170.9 L872.7,170.6 L873.6,170.3 L874.5,169.8 L875.3,169.3 L876.2,168.6 L877.0,167.9 L877.9,167.1 L878.8,166.2 L879.6,165.3 L880.5,164.4 L881.4,163.4 L882.2,162.4 L883.1,161.5 L884.0,160.6 L884.8,159.7 L885.7,158.9 L886.6,158.2 L887.4,157.5 L888.3,157.0 L889.1,156.5 L890.0,156.2 L890.9,155.9 L891.7,155.8 L892.6,155.8 L893.5,155.9 L894.3,156.2 L895.2,156.5 L896.1,157.0 L896.9,157.5 L897.8,158.2 L898.6,158.9 L899.5,159.7 L900.4,160.6 L901.2,161.5 L902.1,162.4 L903.0,163.4 L903.8,164.4 L904.7,165.3 L905.6,166.2 L906.4,167.1 L907.3,167.9 L908.2,168.6 L909.0,169.3 L909.9,169.8 L910.7,170.3 L911.6,170.6 L912.5,170.9 L913.3,171.0 L914.2,171.0 L915.1,170.9 L915.9,170.6 L916.8,170.3 L917.7,169.8 L918.5,169.3 L919.4,168.6 L920.2,167.9 L921.1,167.1 L922.0,166.2 L922.8,165.3 L923.7,164.4 L924.6,163.4 L925.4,162.4 L926.3,161.5 L927.2,160.6 L928.0,159.7 L928.9,158.9 L929.8,158.2 L930.6,157.5 L931.5,157.0 L932.3,156.5 L933.2,156.2 L934.1,155.9 L934.9,155.8 L935.8,155.8 L936.7,155.9 L937.5,156.2 L938.4,156.5 L939.3,157.0 L940.1,157.5 L941.0,158.2 L941.8,158.9 L942.7,159.7 L943.6,160.6 L944.4,161.5 L945.3,162.4 L946.2,163.4 L947.0,164.4 L947.9,165.3 L948.8,166.2 L949.6,167.1 L950.5,167.9 L951.4,168.6 L952.2,169.3 L953.1,169.8 L953.9,170.3 L954.8,170.6 L955.7,170.9 L956.5,171.0 L957.4,171.0 L958.3,170.9 L959.1,170.6 L960.0,170.3 L960.9,169.8 L961.7,169.3 L962.6,168.6 L963.4,167.9 L964.3,167.1 L965.2,166.2 L966.0,165.3 L966.9,164.4 L967.8,163.4 L968.6,162.4 L969.5,161.5 L970.4,160.6 L971.2,159.7 L972.1,158.9 L973.0,158.2 L973.8,157.5 L974.7,157.0 L975.5,156.5 L976.4,156.2 L977.3,155.9 L978.1,155.8 L979.0,155.8" fill="none" stroke="#ff0000" stroke-width="5.8" stroke-linejoin="round"/>
<path d="M115.0,163.0 L115.9,162.5 L116.7,162.0 L117.6,161.5 L118.5,161.0 L119.3,160.7 L120.2,160.4 L121.0,160.2 L121.9,160.0 L122.8,160.0 L123.6,160.1 L124.5,160.3 L125.4,160.5 L126.2,160.8 L127.1,161.2 L128.0,161.7 L128.8,162.2 L129.7,162.8 L130.6,163.3 L131.4,163.9 L132.3,164.4 L133.1,165.0 L134.0,165.4 L134.9,165.9 L135.7,166.2 L136.6,166.5 L137.5,166.7 L138.3,166.8 L139.2,166.8 L140.1,166.7 L140.9,166.5 L141.8,166.2 L142.6,165.9 L143.5,165.4 L144.4,165.0 L145.2,164.4 L146.1,163.9 L147.0,163.3 L147.8,162.8 L148.7,162.2 L149.6,161.7 L150.4,161.2 L151.3,160.8 L152.2,160.5 L153.0,160.3 L153.9,160.1 L154.7,160.0 L155.6,160.0 L156.5,160.2 L157.3,160.4 L158.2,160.7 L159.1,161.0 L159.9,161.5 L160.8,162.0 L161.7,162.5 L162.5,163.0 L163.4,163.6 L164.2,164.2 L165.1,164.7 L166.0,165.2 L166.8,165.7 L167.7,166.0 L168.6,166.4 L169.4,166.6 L170.3,166.7 L171.2,166.8 L172.0,166.7 L172.9,166.6 L173.8,166.4 L174.6,166.0 L175.5,165.7 L176.3,165.2 L177.2,164.7 L178.1,164.2 L178.9,163.6 L179.8,163.0 L180.7,162.5 L181.5,162.0 L182.4,161.5 L183.3,161.0 L184.1,160.7 L185.0,160.4 L185.8,160.2 L186.7,160.0 L187.6,160.0 L188.4,160.1 L189.3,160.3 L190.2,160.5 L191.0,160.8 L191.9,161.2 L192.8,161.7 L193.6,162.2 L194.5,162.8 L195.4,163.3 L196.2,163.9 L197.1,164.4 L197.9,165.0 L198.8,165.4 L199.7,165.9 L200.5,166.2 L201.4,166.5 L202.3,166.7 L203.1,166.8 L204.0,166.8 L204.9,166.7 L205.7,166.5 L206.6,166.2 L207.4,165.9 L208.3,165.4 L209.2,165.0 L210.0,164.4 L210.9,163.9 L211.8,163.3 L212.6,162.8 L213.5,162.2 L214.4,161.7 L215.2,161.2 L216.1,160.8 L217.0,160.5 L217.8,160.3 L218.7,160.1 L219.5,160.0 L220.4,160.0 L221.3,160.2 L222.1,160.4 L223.0,160.7 L223.9,161.0 L224.7,161.5 L225.6,162.0 L226.5,162.5 L227.3,163.0 L228.2,163.6 L229.0,164.2 L229.9,164.7 L230.8,165.2 L231.6,165.7 L232.5,166.0 L233.4,166.4 L234.2,166.6 L235.1,166.7 L236.0,166.8 L236.8,166.7 L237.7,166.6 L238.6,166.4 L239.4,166.0 L240.3,165.7 L241.1,165.2 L242.0,164.7 L242.9,164.2 L243.7,163.6 L244.6,163.0 L245.5,162.5 L246.3,162.0 L247.2,161.5 L248.1,161.0 L248.9,160.7 L249.8,160.4 L250.6,160.2 L251.5,160.0 L252.4,160.0 L253.2,160.1 L254.1,160.3 L255.0,160.5 L255.8,160.8 L256.7,161.2 L257.6,161.7 L258.4,162.2 L259.3,162.8 L260.2,163.3 L261.0,163.9 L261.9,164.4 L262.7,165.0 L263.6,165.4 L264.5,165.9 L265.3,166.2 L266.2,166.5 L267.1,166.7 L267.9,166.8 L268.8,166.8 L269.7,166.7 L270.5,166.5 L271.4,166.2 L272.2,165.9 L273.1,165.4 L274.0,165.0 L274.8,164.4 L275.7,163.9 L276.6,163.3 L277.4,162.8 L278.3,162.2 L279.2,161.7 L280.0,161.2 L280.9,160.8 L281.8,160.5 L282.6,160.3 L283.5,160.1 L284.3,160.0 L285.2,160.0 L286.1,160.2 L286.9,160.4 L287.8,160.7 L288.7,161.0 L289.5,161.5 L290.4,162.0 L291.3,162.5 L292.1,163.0 L293.0,163.6 L293.8,164.2 L294.7,164.7 L295.6,165.2 L296.4,165.7 L297.3,166.0 L298.2,166.4 L299.0,166.6 L299.9,166.7 L300.8,166.8 L301.6,166.7 L302.5,166.6 L303.4,166.4 L304.2,166.0 L305.1,165.7 L305.9,165.2 L306.8,164.7 L307.7,164.2 L308.5,163.6 L309.4,163.0 L310.3,162.5 L311.1,162.0 L312.0,161.5 L312.9,161.0 L313.7,160.7 L314.6,160.4 L315.4,160.2 L316.3,160.0 L317.2,160.0 L318.0,160.1 L318.9,160.3 L319.8,160.5 L320.6,160.8 L321.5,161.2 L322.4,161.7 L323.2,162.2 L324.1,162.8 L325.0,163.3 L325.8,163.9 L326.7,164.4 L327.5,165.0 L328.4,165.4 L329.3,165.9 L330.1,166.2 L331.0,166.5 L331.9,166.7 L332.7,166.8 L333.6,166.8 L334.5,166.7 L335.3,166.5 L336.2,166.2 L337.0,165.9 L337.9,165.4 L338.8,165.0 L339.6,164.4 L340.5,163.9 L341.4,163.3 L342.2,162.8 L343.1,162.2 L344.0,161.7 L344.8,161.2 L345.7,160.8 L346.6,160.5 L347.4,160.3 L348.3,160.1 L349.1,160.0 L350.0,160.0 L350.9,160.2 L351.7,160.4 L352.6,160.7 L353.5,161.0 L354.3,161.5 L355.2,162.0 L356.1,162.5 L356.9,163.0 L357.8,163.6 L358.6,164.2 L359.5,164.7 L360.4,165.2 L361.2,165.7 L362.1,166.0 L363.0,166.4 L363.8,166.6 L364.7,166.7 L365.6,166.8 L366.4,166.7 L367.3,166.6 L368.2,166.4 L369.0,166.0 L369.9,165.7 L370.7,165.2 L371.6,164.7 L372.5,164.2 L373.3,163.6 L374.2,163.0 L375.1,162.5 L375.9,162.0 L376.8,161.5 L377.7,161.0 L378.5,160.7 L379.4,160.4 L380.2,160.2 L381.1,160.0 L382.0,160.0 L382.8,160.1 L383.7,160.3 L384.6,160.5 L385.4,160.8 L386.3,161.2 L387.2,161.7 L388.0,162.2 L388.9,162.8 L389.8,163.3 L390.6,163.9 L391.5,164.4 L392.3,165.0 L393.2,165.4 L394.1,165.9 L394.9,166.2 L395.8,166.5 L396.7,166.7 L397.5,166.8 L398.4,166.8 L399.3,166.7 L400.1,166.5 L401.0,166.2 L401.8,165.9 L402.7,165.4 L403.6,165.0 L404.4,164.4 L405.3,163.9 L406.2,163.3 L407.0,162.8 L407.9,162.2 L408.8,161.7 L409.6,161.2 L410.5,160.8 L411.4,160.5 L412.2,160.3 L413.1,160.1 L413.9,160.0 L414.8,160.0 L415.7,160.2 L416.5,160.4 L417.4,160.7 L418.3,161.0 L419.1,161.5 L420.0,162.0 L420.9,162.5 L421.7,163.0 L422.6,163.6 L423.4,164.2 L424.3,164.7 L425.2,165.2 L426.0,165.7 L426.9,166.0 L427.8,166.4 L428.6,166.6 L429.5,166.7 L430.4,166.8 L431.2,166.7 L432.1,166.6 L433.0,166.4 L433.8,166.0 L434.7,165.7 L435.5,165.2 L436.4,164.7 L437.3,164.2 L438.1,163.6 L439.0,163.0 L439.9,162.5 L440.7,162.0 L441.6,161.5 L442.5,161.0 L443.3,160.7 L444.2,160.4 L445.0,160.2 L445.9,160.0 L446.8,160.0 L447.6,160.1 L448.5,160.3 L449.4,160.5 L450.2,160.8 L451.1,161.2 L452.0,161.7 L452.8,162.2 L453.7,162.8 L454.6,163.3 L455.4,163.9 L456.3,164.4 L457.1,165.0 L458.0,165.4 L458.9,165.9 L459.7,166.2 L460.6,166.5 L461.5,166.7 L462.3,166.8 L463.2,166.8 L464.1,166.7 L464.9,166.5 L465.8,166.2 L466.6,165.9 L467.5,165.4 L468.4,165.0 L469.2,164.4 L470.1,163.9 L471.0,163.3 L471.8,162.8 L472.7,162.2 L473.6,161.7 L474.4,161.2 L475.3,160.8 L476.2,160.5 L477.0,160.3 L477.9,160.1 L478.7,160.0 L479.6,160.0 L480.5,160.2 L481.3,160.4 L482.2,160.7 L483.1,161.0 L483.9,161.5 L484.8,162.0 L485.7,162.5 L486.5,163.0 L487.4,163.6 L488.2,164.2 L489.1,164.7 L490.0,165.2 L490.8,165.7 L491.7,166.0 L492.6,166.4 L493.4,166.6 L494.3,166.7 L495.2,166.8 L496.0,166.7 L496.9,166.6 L497.8,166.4 L498.6,166.0 L499.5,165.7 L500.3,165.2 L501.2,164.7 L502.1,164.2 L502.9,163.6 L503.8,163.0 L504.7,162.5 L505.5,162.0 L506.4,161.5 L507.3,161.0 L508.1,160.7 L509.0,160.4 L509.8,160.2 L510.7,160.0 L511.6,160.0 L512.4,160.1 L513.3,160.3 L514.2,160.5 L515.0,160.8 L515.9,161.2 L516.8,161.7 L517.6,162.2 L518.5,162.8 L519.4,163.3 L520.2,163.9 L521.1,164.4 L521.9,165.0 L522.8,165.4 L523.7,165.9 L524.5,166.2 L525.4,166.5 L526.3,166.7 L527.1,166.8 L528.0,166.8 L528.9,166.7 L529.7,166.5 L530.6,166.2 L531.4,165.9 L532.3,165.4 L533.2,165.0 L534.0,164.4 L534.9,163.9 L535.8,163.3 L536.6,162.8 L537.5,162.2 L538.4,161.7 L539.2,161.2 L540.1,160.8 L541.0,160.5 L541.8,160.3 L542.7,160.1 L543.5,160.0 L544.4,160.0 L545.3,160.2 L546.1,160.4 L547.0,160.7 L547.9,161.0 L548.7,161.5 L549.6,162.0 L550.5,162.5 L551.3,163.0 L552.2,163.6 L553.0,164.2 L553.9,164.7 L554.8,165.2 L555.6,165.7 L556.5,166.0 L557.4,166.4 L558.2,166.6 L559.1,166.7 L560.0,166.8 L560.8,166.7 L561.7,166.6 L562.6,166.4 L563.4,166.0 L564.3,165.7 L565.1,165.2 L566.0,164.7 L566.9,164.2 L567.7,163.6 L568.6,163.0 L569.5,162.5 L570.3,162.0 L571.2,161.5 L572.1,161.0 L572.9,160.7 L573.8,160.4 L574.6,160.2 L575.5,160.0 L576.4,160.0 L577.2,160.1 L578.1,160.3 L579.0,160.5 L579.8,160.8 L580.7,161.2 L581.6,161.7 L582.4,162.2 L583.3,162.8 L584.2,163.3 L585.0,163.9 L585.9,164.4 L586.7,165.0 L587.6,165.4 L588.5,165.9 L589.3,166.2 L590.2,166.5 L591.1,166.7 L591.9,166.8 L592.8,166.8 L593.7,166.7 L594.5,166.5 L595.4,166.2 L596.2,165.9 L597.1,165.4 L598.0,165.0 L598.8,164.4 L599.7,163.9 L600.6,163.3 L601.4,162.8 L602.3,162.2 L603.2,161.7 L604.0,161.2 L604.9,160.8 L605.8,160.5 L606.6,160.3 L607.5,160.1 L608.3,160.0 L609.2,160.0 L610.1,160.2 L610.9,160.4 L611.8,160.7 L612.7,161.0 L613.5,161.5 L614.4,162.0 L615.3,162.5 L616.1,163.0 L617.0,163.6 L617.8,164.2 L618.7,164.7 L619.6,165.2 L620.4,165.7 L621.3,166.0 L622.2,166.4 L623.0,166.6 L623.9,166.7 L624.8,166.8 L625.6,166.7 L626.5,166.6 L627.4,166.4 L628.2,166.0 L629.1,165.7 L629.9,165.2 L630.8,164.7 L631.7,164.2 L632.5,163.6 L633.4,163.0 L634.3,162.5 L635.1,162.0 L636.0,161.5 L636.9,161.0 L637.7,160.7 L638.6,160.4 L639.4,160.2 L640.3,160.0 L641.2,160.0 L642.0,160.1 L642.9,160.3 L643.8,160.5 L644.6,160.8 L645.5,161.2 L646.4,161.7 L647.2,162.2 L648.1,162.8 L649.0,163.3 L649.8,163.9 L650.7,164.4 L651.5,165.0 L652.4,165.4 L653.3,165.9 L654.1,166.2 L655.0,166.5 L655.9,166.7 L656.7,166.8 L657.6,166.8 L658.5,166.7 L659.3,166.5 L660.2,166.2 L661.0,165.9 L661.9,165.4 L662.8,165.0 L663.6,164.4 L664.5,163.9 L665.4,163.3 L666.2,162.8 L667.1,162.2 L668.0,161.7 L668.8,161.2 L669.7,160.8 L670.6,160.5 L671.4,160.3 L672.3,160.1 L673.1,160.0 L674.0,160.0 L674.9,160.2 L675.7,160.4 L676.6,160.7 L677.5,161.0 L678.3,161.5 L679.2,162.0 L680.1,162.5 L680.9,163.0 L681.8,163.6 L682.6,164.2 L683.5,164.7 L684.4,165.2 L685.2,165.7 L686.1,166.0 L687.0,166.4 L687.8,166.6 L688.7,166.7 L689.6,166.8 L690.4,166.7 L691.3,166.6 L692.2,166.4 L693.0,166.0 L693.9,165.7 L694.7,165.2 L695.6,164.7 L696.5,164.2 L697.3,163.6 L698.2,163.0 L699.1,162.5 L699.9,162.0 L700.8,161.5 L701.7,161.0 L702.5,160.7 L703.4,160.4 L704.2,160.2 L705.1,160.0 L706.0,160.0 L706.8,160.1 L707.7,160.3 L708.6,160.5 L709.4,160.8 L710.3,161.2 L711.2,161.7 L712.0,162.2 L712.9,162.8 L713.8,163.3 L714.6,163.9 L715.5,164.4 L716.3,165.0 L717.2,165.4 L718.1,165.9 L718.9,166.2 L719.8,166.5 L720.7,166.7 L721.5,166.8 L722.4,166.8 L723.3,166.7 L724.1,166.5 L725.0,166.2 L725.8,165.9 L726.7,165.4 L727.6,165.0 L728.4,164.4 L729.3,163.9 L730.2,163.3 L731.0,162.8 L731.9,162.2 L732.8,161.7 L733.6,161.2 L734.5,160.8 L735.4,160.5 L736.2,160.3 L737.1,160.1 L737.9,160.0 L738.8,160.0 L739.7,160.2 L740.5,160.4 L741.4,160.7 L742.3,161.0 L743.1,161.5 L744.0,162.0 L744.9,162.5 L745.7,163.0 L746.6,163.6 L747.4,164.2 L748.3,164.7 L749.2,165.2 L750.0,165.7 L750.9,166.0 L751.8,166.4 L752.6,166.6 L753.5,166.7 L754.4,166.8 L755.2,166.7 L756.1,166.6 L757.0,166.4 L757.8,166.0 L758.7,165.7 L759.5,165.2 L760.4,164.7 L761.3,164.2 L762.1,163.6 L763.0,163.0 L763.9,162.5 L764.7,162.0 L765.6,161.5 L766.5,161.0 L767.3,160.7 L768.2,160.4 L769.0,160.2 L769.9,160.0 L770.8,160.0 L771.6,160.1 L772.5,160.3 L773.4,160.5 L774.2,160.8 L775.1,161.2 L776.0,161.7 L776.8,162.2 L777.7,162.8 L778.6,163.3 L779.4,163.9 L780.3,164.4 L781.1,165.0 L782.0,165.4 L782.9,165.9 L783.7,166.2 L784.6,166.5 L785.5,166.7 L786.3,166.8 L787.2,166.8 L788.1,166.7 L788.9,166.5 L789.8,166.2 L790.6,165.9 L791.5,165.4 L792.4,165.0 L793.2,164.4 L794.1,163.9 L795.0,163.3 L795.8,162.8 L796.7,162.2 L797.6,161.7 L798.4,161.2 L799.3,160.8 L800.2,160.5 L801.0,160.3 L801.9,160.1 L802.7,160.0 L803.6,160.0 L804.5,160.2 L805.3,160.4 L806.2,160.7 L807.1,161.0 L807.9,161.5 L808.8,162.0 L809.7,162.5 L810.5,163.0 L811.4,163.6 L812.2,164.2 L813.1,164.7 L814.0,165.2 L814.8,165.7 L815.7,166.0 L816.6,166.4 L817.4,166.6 L818.3,166.7 L819.2,166.8 L820.0,166.7 L820.9,166.6 L821.8,166.4 L822.6,166.0 L823.5,165.7 L824.3,165.2 L825.2,164.7 L826.1,164.2 L826.9,163.6 L827.8,163.0 L828.7,162.5 L829.5,162.0 L830.4,161.5 L831.3,161.0 L832.1,160.7 L833.0,160.4 L833.8,160.2 L834.7,160.0 L835.6,160.0 L836.4,160.1 L837.3,160.3 L838.2,160.5 L839.0,160.8 L839.9,161.2 L840.8,161.7 L841.6,162.2 L842.5,162.8 L843.4,163.3 L844.2,163.9 L845.1,164.4 L845.9,165.0 L846.8,165.4 L847.7,165.9 L848.5,166.2 L849.4,166.5 L850.3,166.7 L851.1,166.8 L852.0,166.8 L852.9,166.7 L853.7,166.5 L854.6,166.2 L855.4,165.9 L856.3,165.4 L857.2,165.0 L858.0,164.4 L858.9,163.9 L859.8,163.3 L860.6,162.8 L861.5,162.2 L862.4,161.7 L863.2,161.2 L864.1,160.8 L865.0,160.5 L865.8,160.3 L866.7,160.1 L867.5,160.0 L868.4,160.0 L869.3,160.2 L870.1,160.4 L871.0,160.7 L871.9,161.0 L872.7,161.5 L873.6,162.0 L874.5,162.5 L875.3,163.0 L876.2,163.6 L877.0,164.2 L877.9,164.7 L878.8,165.2 L879.6,165.7 L880.5,166.0 L881.4,166.4 L882.2,166.6 L883.1,166.7 L884.0,166.8 L884.8,166.7 L885.7,166.6 L886.6,166.4 L887.4,166.0 L888.3,165.7 L889.1,165.2 L890.0,164.7 L890.9,164.2 L891.7,163.6 L892.6,163.0 L893.5,162.5 L894.3,162.0 L895.2,161.5 L896.1,161.0 L896.9,160.7 L897.8,160.4 L898.6,160.2 L899.5,160.0 L900.4,160.0 L901.2,160.1 L902.1,160.3 L903.0,160.5 L903.8,160.8 L904.7,161.2 L905.6,161.7 L906.4,162.2 L907.3,162.8 L908.2,163.3 L909.0,163.9 L909.9,164.4 L910.7,165.0 L911.6,165.4 L912.5,165.9 L913.3,166.2 L914.2,166.5 L915.1,166.7 L915.9,166.8 L916.8,166.8 L917.7,166.7 L918.5,166.5 L919.4,166.2 L920.2,165.9 L921.1,165.4 L922.0,165.0 L922.8,164.4 L923.7,163.9 L924.6,163.3 L925.4,162.8 L926.3,162.2 L927.2,161.7 L928.0,161.2 L928.9,160.8 L929.8,160.5 L930.6,160.3 L931.5,160.1 L932.3,160.0 L933.2,160.0 L934.1,160.2 L934.9,160.4 L935.8,160.7 L936.7,161.0 L937.5,161.5 L938.4,162.0 L939.3,162.5 L940.1,163.0 L941.0,163.6 L941.8,164.2 L942.7,164.7 L943.6,165.2 L944.4,165.7 L945.3,166.0 L946.2,166.4 L947.0,166.6 L947.9,166.7 L948.8,166.8 L949.6,166.7 L950.5,166.6 L951.4,166.4 L952.2,166.0 L953.1,165.7 L953.9,165.2 L954.8,164.7 L955.7,164.2 L956.5,163.6 L957.4,163.0 L958.3,162.5 L959.1,162.0 L960.0,161.5 L960.9,161.0 L961.7,160.7 L962.6,160.4 L963.4,160.2 L964.3,160.0 L965.2,160.0 L966.0,160.1 L966.9,160.3 L967.8,160.5 L968.6,160.8 L969.5,161.2 L970.4,161.7 L971.2,162.2 L972.1,162.8 L973.0,163.3 L973.8,163.9 L974.7,164.4 L975.5,165.0 L976.4,165.4 L977.3,165.9 L978.1,166.2 L979.0,166.5" fill="none" stroke="#00bfbf" stroke-width="5.8" stroke-linejoin="round"/>
<path d="M115.0,151.9 L115.9,156.4 L116.7,161.2 L117.6,166.3 L118.5,171.6 L119.3,177.1 L120.2,182.8 L121.0,188.7 L121.9,194.8 L122.8,200.9 L123.6,207.1 L124.5,213.4 L125.4,219.6 L126.2,225.8 L127.1,231.8 L128.0,237.7 L128.8,243.4 L129.7,248.9 L130.6,254.0 L131.4,258.7 L132.3,263.1 L133.1,267.0 L134.0,270.5 L134.9,273.4 L135.7,275.8 L136.6,277.7 L137.5,279.0 L138.3,279.7 L139.2,279.8 L140.1,279.3 L140.9,278.3 L141.8,276.7 L142.6,274.6 L143.5,271.9 L144.4,268.8 L145.2,265.3 L146.1,261.4 L147.0,257.1 L147.8,252.5 L148.7,247.7 L149.6,242.7 L150.4,237.5 L151.3,232.1 L152.2,226.8 L153.0,221.3 L153.9,215.9 L154.7,210.6 L155.6,205.3 L156.5,200.2 L157.3,195.2 L158.2,190.4 L159.1,185.7 L159.9,181.2 L160.8,177.0 L161.7,172.9 L162.5,169.0 L163.4,165.4 L164.2,161.9 L165.1,158.6 L166.0,155.5 L166.8,152.6 L167.7,149.8 L168.6,147.2 L169.4,144.7 L170.3,142.3 L171.2,140.0 L172.0,137.8 L172.9,135.7 L173.8,133.8 L174.6,131.9 L175.5,130.1 L176.3,128.3 L177.2,126.7 L178.1,125.2 L178.9,123.7 L179.8,122.4 L180.7,121.2 L181.5,120.1 L182.4,119.1 L183.3,118.2 L184.1,117.5 L185.0,117.0 L185.8,116.5 L186.7,116.2 L187.6,116.1 L188.4,116.1 L189.3,116.2 L190.2,116.5 L191.0,116.9 L191.9,117.3 L192.8,117.9 L193.6,118.6 L194.5,119.3 L195.4,120.1 L196.2,120.9 L197.1,121.7 L197.9,122.4 L198.8,123.2 L199.7,123.9 L200.5,124.6 L201.4,125.1 L202.3,125.6 L203.1,126.0 L204.0,126.3 L204.9,126.4 L205.7,126.4 L206.6,126.3 L207.4,126.1 L208.3,125.8 L209.2,125.3 L210.0,124.8 L210.9,124.2 L211.8,123.4 L212.6,122.6 L213.5,121.8 L214.4,120.9 L215.2,120.0 L216.1,119.0 L217.0,118.1 L217.8,117.2 L218.7,116.3 L219.5,115.5 L220.4,114.7 L221.3,114.1 L222.1,113.4 L223.0,112.9 L223.9,112.5 L224.7,112.2 L225.6,112.0 L226.5,111.9 L227.3,112.0 L228.2,112.2 L229.0,112.5 L229.9,113.0 L230.8,113.7 L231.6,114.5 L232.5,115.5 L233.4,116.6 L234.2,117.9 L235.1,119.5 L236.0,121.2 L236.8,123.1 L237.7,125.3 L238.6,127.7 L239.4,130.4 L240.3,133.3 L241.1,136.5 L242.0,139.9 L242.9,143.6 L243.7,147.6 L244.6,151.9 L245.5,156.4 L246.3,161.2 L247.2,166.3 L248.1,171.6 L248.9,177.1 L249.8,182.8 L250.6,188.7 L251.5,194.8 L252.4,200.9 L253.2,207.1 L254.1,213.4 L255.0,219.6 L255.8,225.8 L256.7,231.8 L257.6,237.7 L258.4,243.4 L259.3,248.9 L260.2,254.0 L261.0,258.7 L261.9,263.1 L262.7,267.0 L263.6,270.5 L264.5,273.4 L265.3,275.8 L266.2,277.7 L267.1,279.0 L267.9,279.7 L268.8,279.8 L269.7,279.3 L270.5,278.3 L271.4,276.7 L272.2,274.6 L273.1,271.9 L274.0,268.8 L274.8,265.3 L275.7,261.4 L276.6,257.1 L277.4,252.5 L278.3,247.7 L279.2,242.7 L280.0,237.5 L280.9,232.1 L281.8,226.8 L282.6,221.3 L283.5,215.9 L284.3,210.6 L285.2,205.3 L286.1,200.2 L286.9,195.2 L287.8,190.4 L288.7,185.7 L289.5,181.2 L290.4,177.0 L291.3,172.9 L292.1,169.0 L293.0,165.4 L293.8,161.9 L294.7,158.6 L295.6,155.5 L296.4,152.6 L297.3,149.8 L298.2,147.2 L299.0,144.7 L299.9,142.3 L300.8,140.0 L301.6,137.8 L302.5,135.7 L303.4,133.8 L304.2,131.9 L305.1,130.1 L305.9,128.3 L306.8,126.7 L307.7,125.2 L308.5,123.7 L309.4,122.4 L310.3,121.2 L311.1,120.1 L312.0,119.1 L312.9,118.2 L313.7,117.5 L314.6,117.0 L315.4,116.5 L316.3,116.2 L317.2,116.1 L318.0,116.1 L318.9,116.2 L319.8,116.5 L320.6,116.9 L321.5,117.3 L322.4,117.9 L323.2,118.6 L324.1,119.3 L325.0,120.1 L325.8,120.9 L326.7,121.7 L327.5,122.4 L328.4,123.2 L329.3,123.9 L330.1,124.6 L331.0,125.1 L331.9,125.6 L332.7,126.0 L333.6,126.3 L334.5,126.4 L335.3,126.4 L336.2,126.3 L337.0,126.1 L337.9,125.8 L338.8,125.3 L339.6,124.8 L340.5,124.2 L341.4,123.4 L342.2,122.6 L343.1,121.8 L344.0,120.9 L344.8,120.0 L345.7,119.0 L346.6,118.1 L347.4,117.2 L348.3,116.3 L349.1,115.5 L350.0,114.7 L350.9,114.1 L351.7,113.4 L352.6,112.9 L353.5,112.5 L354.3,112.2 L355.2,112.0 L356.1,111.9 L356.9,112.0 L357.8,112.2 L358.6,112.5 L359.5,113.0 L360.4,113.7 L361.2,114.5 L362.1,115.5 L363.0,116.6 L363.8,117.9 L364.7,119.5 L365.6,121.2 L366.4,123.1 L367.3,125.3 L368.2,127.7 L369.0,130.4 L369.9,133.3 L370.7,136.5 L371.6,139.9 L372.5,143.6 L373.3,147.6 L374.2,151.9 L375.1,156.4 L375.9,161.2 L376.8,166.3 L377.7,171.6 L378.5,177.1 L379.4,182.8 L380.2,188.7 L381.1,194.8 L382.0,200.9 L382.8,207.1 L383.7,213.4 L384.6,219.6 L385.4,225.8 L386.3,231.8 L387.2,237.7 L388.0,243.4 L388.9,248.9 L389.8,254.0 L390.6,258.7 L391.5,263.1 L392.3,267.0 L393.2,270.5 L394.1,273.4 L394.9,275.8 L395.8,277.7 L396.7,279.0 L397.5,279.7 L398.4,279.8 L399.3,279.3 L400.1,278.3 L401.0,276.7 L401.8,274.6 L402.7,271.9 L403.6,268.8 L404.4,265.3 L405.3,261.4 L406.2,257.1 L407.0,252.5 L407.9,247.7 L408.8,242.7 L409.6,237.5 L410.5,232.1 L411.4,226.8 L412.2,221.3 L413.1,215.9 L413.9,210.6 L414.8,205.3 L415.7,200.2 L416.5,195.2 L417.4,190.4 L418.3,185.7 L419.1,181.2 L420.0,177.0 L420.9,172.9 L421.7,169.0 L422.6,165.4 L423.4,161.9 L424.3,158.6 L425.2,155.5 L426.0,152.6 L426.9,149.8 L427.8,147.2 L428.6,144.7 L429.5,142.3 L430.4,140.0 L431.2,137.8 L432.1,135.7 L433.0,133.8 L433.8,131.9 L434.7,130.1 L435.5,128.3 L436.4,126.7 L437.3,125.2 L438.1,123.7 L439.0,122.4 L439.9,121.2 L440.7,120.1 L441.6,119.1 L442.5,118.2 L443.3,117.5 L444.2,117.0 L445.0,116.5 L445.9,116.2 L446.8,116.1 L447.6,116.1 L448.5,116.2 L449.4,116.5 L450.2,116.9 L451.1,117.3 L452.0,117.9 L452.8,118.6 L453.7,119.3 L454.6,120.1 L455.4,120.9 L456.3,121.7 L457.1,122.4 L458.0,123.2 L458.9,123.9 L459.7,124.6 L460.6,125.1 L461.5,125.6 L462.3,126.0 L463.2,126.3 L464.1,126.4 L464.9,126.4 L465.8,126.3 L466.6,126.1 L467.5,125.8 L468.4,125.3 L469.2,124.8 L470.1,124.2 L471.0,123.4 L471.8,122.6 L472.7,121.8 L473.6,120.9 L474.4,120.0 L475.3,119.0 L476.2,118.1 L477.0,117.2 L477.9,116.3 L478.7,115.5 L479.6,114.7 L480.5,114.1 L481.3,113.4 L482.2,112.9 L483.1,112.5 L483.9,112.2 L484.8,112.0 L485.7,111.9 L486.5,112.0 L487.4,112.2 L488.2,112.5 L489.1,113.0 L490.0,113.7 L490.8,114.5 L491.7,115.5 L492.6,116.6 L493.4,117.9 L494.3,119.5 L495.2,121.2 L496.0,123.1 L496.9,125.3 L497.8,127.7 L498.6,130.4 L499.5,133.3 L500.3,136.5 L501.2,139.9 L502.1,143.6 L502.9,147.6 L503.8,151.9 L504.7,156.4 L505.5,161.2 L506.4,166.3 L507.3,171.6 L508.1,177.1 L509.0,182.8 L509.8,188.7 L510.7,194.8 L511.6,200.9 L512.4,207.1 L513.3,213.4 L514.2,219.6 L515.0,225.8 L515.9,231.8 L516.8,237.7 L517.6,243.4 L518.5,248.9 L519.4,254.0 L520.2,258.7 L521.1,263.1 L521.9,267.0 L522.8,270.5 L523.7,273.4 L524.5,275.8 L525.4,277.7 L526.3,279.0 L527.1,279.7 L528.0,279.8 L528.9,279.3 L529.7,278.3 L530.6,276.7 L531.4,274.6 L532.3,271.9 L533.2,268.8 L534.0,265.3 L534.9,261.4 L535.8,257.1 L536.6,252.5 L537.5,247.7 L538.4,242.7 L539.2,237.5 L540.1,232.1 L541.0,226.8 L541.8,221.3 L542.7,215.9 L543.5,210.6 L544.4,205.3 L545.3,200.2 L546.1,195.2 L547.0,190.4 L547.9,185.7 L548.7,181.2 L549.6,177.0 L550.5,172.9 L551.3,169.0 L552.2,165.4 L553.0,161.9 L553.9,158.6 L554.8,155.5 L555.6,152.6 L556.5,149.8 L557.4,147.2 L558.2,144.7 L559.1,142.3 L560.0,140.0 L560.8,137.8 L561.7,135.7 L562.6,133.8 L563.4,131.9 L564.3,130.1 L565.1,128.3 L566.0,126.7 L566.9,125.2 L567.7,123.7 L568.6,122.4 L569.5,121.2 L570.3,120.1 L571.2,119.1 L572.1,118.2 L572.9,117.5 L573.8,117.0 L574.6,116.5 L575.5,116.2 L576.4,116.1 L577.2,116.1 L578.1,116.2 L579.0,116.5 L579.8,116.9 L580.7,117.3 L581.6,117.9 L582.4,118.6 L583.3,119.3 L584.2,120.1 L585.0,120.9 L585.9,121.7 L586.7,122.4 L587.6,123.2 L588.5,123.9 L589.3,124.6 L590.2,125.1 L591.1,125.6 L591.9,126.0 L592.8,126.3 L593.7,126.4 L594.5,126.4 L595.4,126.3 L596.2,126.1 L597.1,125.8 L598.0,125.3 L598.8,124.8 L599.7,124.2 L600.6,123.4 L601.4,122.6 L602.3,121.8 L603.2,120.9 L604.0,120.0 L604.9,119.0 L605.8,118.1 L606.6,117.2 L607.5,116.3 L608.3,115.5 L609.2,114.7 L610.1,114.1 L610.9,113.4 L611.8,112.9 L612.7,112.5 L613.5,112.2 L614.4,112.0 L615.3,111.9 L616.1,112.0 L617.0,112.2 L617.8,112.5 L618.7,113.0 L619.6,113.7 L620.4,114.5 L621.3,115.5 L622.2,116.6 L623.0,117.9 L623.9,119.5 L624.8,121.2 L625.6,123.1 L626.5,125.3 L627.4,127.7 L628.2,130.4 L629.1,133.3 L629.9,136.5 L630.8,139.9 L631.7,143.6 L632.5,147.6 L633.4,151.9 L634.3,156.4 L635.1,161.2 L636.0,166.3 L636.9,171.6 L637.7,177.1 L638.6,182.8 L639.4,188.7 L640.3,194.8 L641.2,200.9 L642.0,207.1 L642.9,213.4 L643.8,219.6 L644.6,225.8 L645.5,231.8 L646.4,237.7 L647.2,243.4 L648.1,248.9 L649.0,254.0 L649.8,258.7 L650.7,263.1 L651.5,267.0 L652.4,270.5 L653.3,273.4 L654.1,275.8 L655.0,277.7 L655.9,279.0 L656.7,279.7 L657.6,279.8 L658.5,279.3 L659.3,278.3 L660.2,276.7 L661.0,274.6 L661.9,271.9 L662.8,268.8 L663.6,265.3 L664.5,261.4 L665.4,257.1 L666.2,252.5 L667.1,247.7 L668.0,242.7 L668.8,237.5 L669.7,232.1 L670.6,226.8 L671.4,221.3 L672.3,215.9 L673.1,210.6 L674.0,205.3 L674.9,200.2 L675.7,195.2 L676.6,190.4 L677.5,185.7 L678.3,181.2 L679.2,177.0 L680.1,172.9 L680.9,169.0 L681.8,165.4 L682.6,161.9 L683.5,158.6 L684.4,155.5 L685.2,152.6 L686.1,149.8 L687.0,147.2 L687.8,144.7 L688.7,142.3 L689.6,140.0 L690.4,137.8 L691.3,135.7 L692.2,133.8 L693.0,131.9 L693.9,130.1 L694.7,128.3 L695.6,126.7 L696.5,125.2 L697.3,123.7 L698.2,122.4 L699.1,121.2 L699.9,120.1 L700.8,119.1 L701.7,118.2 L702.5,117.5 L703.4,117.0 L704.2,116.5 L705.1,116.2 L706.0,116.1 L706.8,116.1 L707.7,116.2 L708.6,116.5 L709.4,116.9 L710.3,117.3 L711.2,117.9 L712.0,118.6 L712.9,119.3 L713.8,120.1 L714.6,120.9 L715.5,121.7 L716.3,122.4 L717.2,123.2 L718.1,123.9 L718.9,124.6 L719.8,125.1 L720.7,125.6 L721.5,126.0 L722.4,126.3 L723.3,126.4 L724.1,126.4 L725.0,126.3 L725.8,126.1 L726.7,125.8 L727.6,125.3 L728.4,124.8 L729.3,124.2 L730.2,123.4 L731.0,122.6 L731.9,121.8 L732.8,120.9 L733.6,120.0 L734.5,119.0 L735.4,118.1 L736.2,117.2 L737.1,116.3 L737.9,115.5 L738.8,114.7 L739.7,114.1 L740.5,113.4 L741.4,112.9 L742.3,112.5 L743.1,112.2 L744.0,112.0 L744.9,111.9 L745.7,112.0 L746.6,112.2 L747.4,112.5 L748.3,113.0 L749.2,113.7 L750.0,114.5 L750.9,115.5 L751.8,116.6 L752.6,117.9 L753.5,119.5 L754.4,121.2 L755.2,123.1 L756.1,125.3 L757.0,127.7 L757.8,130.4 L758.7,133.3 L759.5,136.5 L760.4,139.9 L761.3,143.6 L762.1,147.6 L763.0,151.9 L763.9,156.4 L764.7,161.2 L765.6,166.3 L766.5,171.6 L767.3,177.1 L768.2,182.8 L769.0,188.7 L769.9,194.8 L770.8,200.9 L771.6,207.1 L772.5,213.4 L773.4,219.6 L774.2,225.8 L775.1,231.8 L776.0,237.7 L776.8,243.4 L777.7,248.9 L778.6,254.0 L779.4,258.7 L780.3,263.1 L781.1,267.0 L782.0,270.5 L782.9,273.4 L783.7,275.8 L784.6,277.7 L785.5,279.0 L786.3,279.7 L787.2,279.8 L788.1,279.3 L788.9,278.3 L789.8,276.7 L790.6,274.6 L791.5,271.9 L792.4,268.8 L793.2,265.3 L794.1,261.4 L795.0,257.1 L795.8,252.5 L796.7,247.7 L797.6,242.7 L798.4,237.5 L799.3,232.1 L800.2,226.8 L801.0,221.3 L801.9,215.9 L802.7,210.6 L803.6,205.3 L804.5,200.2 L805.3,195.2 L806.2,190.4 L807.1,185.7 L807.9,181.2 L808.8,177.0 L809.7,172.9 L810.5,169.0 L811.4,165.4 L812.2,161.9 L813.1,158.6 L814.0,155.5 L814.8,152.6 L815.7,149.8 L816.6,147.2 L817.4,144.7 L818.3,142.3 L819.2,140.0 L820.0,137.8 L820.9,135.7 L821.8,133.8 L822.6,131.9 L823.5,130.1 L824.3,128.3 L825.2,126.7 L826.1,125.2 L826.9,123.7 L827.8,122.4 L828.7,121.2 L829.5,120.1 L830.4,119.1 L831.3,118.2 L832.1,117.5 L833.0,117.0 L833.8,116.5 L834.7,116.2 L835.6,116.1 L836.4,116.1 L837.3,116.2 L838.2,116.5 L839.0,116.9 L839.9,117.3 L840.8,117.9 L841.6,118.6 L842.5,119.3 L843.4,120.1 L844.2,120.9 L845.1,121.7 L845.9,122.4 L846.8,123.2 L847.7,123.9 L848.5,124.6 L849.4,125.1 L850.3,125.6 L851.1,126.0 L852.0,126.3 L852.9,126.4 L853.7,126.4 L854.6,126.3 L855.4,126.1 L856.3,125.8 L857.2,125.3 L858.0,124.8 L858.9,124.2 L859.8,123.4 L860.6,122.6 L861.5,121.8 L862.4,120.9 L863.2,120.0 L864.1,119.0 L865.0,118.1 L865.8,117.2 L866.7,116.3 L867.5,115.5 L868.4,114.7 L869.3,114.1 L870.1,113.4 L871.0,112.9 L871.9,112.5 L872.7,112.2 L873.6,112.0 L874.5,111.9 L875.3,112.0 L876.2,112.2 L877.0,112.5 L877.9,113.0 L878.8,113.7 L879.6,114.5 L880.5,115.5 L881.4,116.6 L882.2,117.9 L883.1,119.5 L884.0,121.2 L884.8,123.1 L885.7,125.3 L886.6,127.7 L887.4,130.4 L888.3,133.3 L889.1,136.5 L890.0,139.9 L890.9,143.6 L891.7,147.6 L892.6,151.9 L893.5,156.4 L894.3,161.2 L895.2,166.3 L896.1,171.6 L896.9,177.1 L897.8,182.8 L898.6,188.7 L899.5,194.8 L900.4,200.9 L901.2,207.1 L902.1,213.4 L903.0,219.6 L903.8,225.8 L904.7,231.8 L905.6,237.7 L906.4,243.4 L907.3,248.9 L908.2,254.0 L909.0,258.7 L909.9,263.1 L910.7,267.0 L911.6,270.5 L912.5,273.4 L913.3,275.8 L914.2,277.7 L915.1,279.0 L915.9,279.7 L916.8,279.8 L917.7,279.3 L918.5,278.3 L919.4,276.7 L920.2,274.6 L921.1,271.9 L922.0,268.8 L922.8,265.3 L923.7,261.4 L924.6,257.1 L925.4,252.5 L926.3,247.7 L927.2,242.7 L928.0,237.5 L928.9,232.1 L929.8,226.8 L930.6,221.3 L931.5,215.9 L932.3,210.6 L933.2,205.3 L934.1,200.2 L934.9,195.2 L935.8,190.4 L936.7,185.7 L937.5,181.2 L938.4,177.0 L939.3,172.9 L940.1,169.0 L941.0,165.4 L941.8,161.9 L942.7,158.6 L943.6,155.5 L944.4,152.6 L945.3,149.8 L946.2,147.2 L947.0,144.7 L947.9,142.3 L948.8,140.0 L949.6,137.8 L950.5,135.7 L951.4,133.8 L952.2,131.9 L953.1,130.1 L953.9,128.3 L954.8,126.7 L955.7,125.2 L956.5,123.7 L957.4,122.4 L958.3,121.2 L959.1,120.1 L960.0,119.1 L960.9,118.2 L961.7,117.5 L962.6,117.0 L963.4,116.5 L964.3,116.2 L965.2,116.1 L966.0,116.1 L966.9,116.2 L967.8,116.5 L968.6,116.9 L969.5,117.3 L970.4,117.9 L971.2,118.6 L972.1,119.3 L973.0,120.1 L973.8,120.9 L974.7,121.7 L975.5,122.4 L976.4,123.2 L977.3,123.9 L978.1,124.6 L979.0,125.1" fill="none" stroke="#000000" stroke-width="7.9" stroke-linejoin="round"/>
</g>
<g stroke="#000" stroke-width="5.60" stroke-linecap="butt"><line x1="115.0" y1="486.0" x2="980.0" y2="486.0"/><line x1="115.0" y1="756.2" x2="980.0" y2="756.2"/><line x1="115.0" y1="486.0" x2="115.0" y2="756.2"/><line x1="980.0" y1="486.0" x2="980.0" y2="756.2"/><line x1="331.25" y1="486.0" x2="331.25" y2="494.80"/><line x1="331.25" y1="756.2" x2="331.25" y2="747.40"/><line x1="547.50" y1="486.0" x2="547.50" y2="494.80"/><line x1="547.50" y1="756.2" x2="547.50" y2="747.40"/><line x1="763.75" y1="486.0" x2="763.75" y2="494.80"/><line x1="763.75" y1="756.2" x2="763.75" y2="747.40"/><line x1="115.0" y1="744.00" x2="123.80" y2="744.00"/><line x1="980.0" y1="744.00" x2="971.20" y2="744.00"/><line x1="115.0" y1="621.00" x2="123.80" y2="621.00"/><line x1="980.0" y1="621.00" x2="971.20" y2="621.00"/><line x1="115.0" y1="498.00" x2="123.80" y2="498.00"/><line x1="980.0" y1="498.00" x2="971.20" y2="498.00"/></g>
<g clip-path="url(#cb)"><path d="M115.5,607.0 L115.8,610.4 L116.1,611.6 L116.4,615.5 L116.7,617.9 L117.0,617.5 L117.3,614.9 L117.6,610.2 L117.9,611.7 L118.2,616.4 L118.5,619.2 L118.8,621.6 L119.1,621.2 L119.4,621.0 L119.7,624.4 L120.0,636.9 L120.3,652.6 L120.6,658.0 L120.9,657.6 L121.2,658.1 L121.5,660.1 L121.8,659.8 L122.1,659.6 L122.4,669.0 L122.7,677.0 L123.0,678.3 L123.3,679.7 L123.6,681.6 L123.9,681.9 L124.2,680.6 L124.5,685.4 L124.8,693.2 L125.1,696.1 L125.4,701.1 L125.7,699.0 L126.0,697.9 L126.3,707.6 L126.6,713.0 L126.9,707.5 L127.2,711.1 L127.5,723.1 L127.8,726.1 L128.1,724.2 L128.4,733.6 L128.7,743.9 L129.0,746.9 L129.3,747.7 L129.6,739.1 L129.9,736.7 L130.2,744.4 L130.5,747.4 L130.8,745.3 L131.1,737.2 L131.4,723.6 L131.7,724.0 L132.0,729.8 L132.3,714.8 L132.6,701.4 L132.9,710.8 L133.2,721.3 L133.5,732.9 L133.8,734.6 L134.1,727.2 L134.4,718.9 L134.7,712.0 L135.0,720.9 L135.3,734.0 L135.6,720.7 L135.9,710.0 L136.2,716.7 L136.5,726.4 L136.8,741.7 L137.1,745.8 L137.4,738.9 L137.7,733.1 L138.0,732.3 L138.3,734.1 L138.6,731.3 L138.9,722.4 L139.2,718.3 L139.5,737.5 L139.8,745.3 L140.1,729.6 L140.4,721.9 L140.7,722.0 L141.0,724.8 L141.3,726.4 L141.6,715.6 L141.9,705.9 L142.2,723.6 L142.5,736.5 L142.8,722.0 L143.1,715.7 L143.4,727.1 L143.7,729.1 L144.0,721.2 L144.3,720.3 L144.6,722.6 L144.9,719.3 L145.2,715.1 L145.5,722.0 L145.8,725.4 L146.1,720.6 L146.4,715.6 L146.7,710.2 L147.0,706.8 L147.3,705.4 L147.6,703.4 L147.9,700.9 L148.2,704.5 L148.5,709.1 L148.8,704.8 L149.1,699.3 L149.4,686.5 L149.7,679.3 L150.0,677.3 L150.3,674.4 L150.6,671.8 L150.9,670.7 L151.2,670.3 L151.5,667.1 L151.8,663.7 L152.1,661.4 L152.4,659.6 L152.7,659.1 L153.0,658.2 L153.3,656.4 L153.6,654.7 L153.9,653.2 L154.2,651.7 L154.5,650.0 L154.8,647.6 L155.1,645.1 L155.4,642.9 L155.7,640.7 L156.0,639.0 L156.3,637.1 L156.6,634.7 L156.9,632.7 L157.2,631.5 L157.5,629.8 L157.8,627.7 L158.1,626.2 L158.4,624.7 L158.7,618.2 L159.0,613.4 L159.3,615.6 L159.6,615.8 L159.9,613.0 L160.2,609.8 L160.5,606.2 L160.8,605.8 L161.1,607.1 L161.4,604.2 L161.7,600.6 L162.0,602.1 L162.3,602.8 L162.6,600.5 L162.9,598.8 L163.2,598.2 L163.5,595.6 L163.8,591.1 L164.1,590.1 L164.4,591.7 L164.7,596.8 L165.0,604.2 L165.3,602.7 L165.6,601.8 L165.9,603.5 L166.2,602.7 L166.5,597.0 L166.8,596.2 L167.1,600.4 L167.4,596.7 L167.7,590.5 L168.0,591.0 L168.3,590.9 L168.6,587.5 L168.9,584.0 L169.2,580.4 L169.5,577.5 L169.8,576.5 L170.1,579.1 L170.4,585.9 L170.7,583.7 L171.0,578.0 L171.3,572.3 L171.6,567.1 L171.9,568.6 L172.2,569.7 L172.5,570.2 L172.8,571.9 L173.1,574.8 L173.4,577.4 L173.7,579.6 L174.0,578.0 L174.3,573.6 L174.6,581.0 L174.9,592.4 L175.2,580.7 L175.5,571.7 L175.8,581.0 L176.1,584.6 L176.4,578.8 L176.7,574.9 L177.0,572.9 L177.3,576.8 L177.6,583.0 L177.9,581.4 L178.2,576.7 L178.5,584.8 L178.8,592.9 L179.1,592.2 L179.4,588.0 L179.7,577.0 L180.0,574.4 L180.3,579.7 L180.6,577.1 L180.9,571.6 L181.2,571.4 L181.5,571.7 L181.8,565.3 L182.1,561.6 L182.4,566.1 L182.7,566.1 L183.0,560.0 L183.3,558.9 L183.6,560.4 L183.9,565.0 L184.2,569.5 L184.5,568.3 L184.8,563.5 L185.1,567.5 L185.4,573.1 L185.7,582.4 L186.0,582.9 L186.3,567.9 L186.6,560.0 L186.9,559.2 L187.2,564.1 L187.5,571.7 L187.8,574.4 L188.1,577.6 L188.4,580.0 L188.7,581.4 L189.0,579.3 L189.3,576.6 L189.6,576.5 L189.9,577.6 L190.2,579.9 L190.5,585.5 L190.8,591.4 L191.1,582.2 L191.4,569.9 L191.7,567.8 L192.0,566.6 L192.3,570.7 L192.6,573.6 L192.9,574.0 L193.2,573.4 L193.5,572.4 L193.8,571.5 L194.1,570.9 L194.4,564.0 L194.7,556.8 L195.0,558.4 L195.3,561.0 L195.6,560.6 L195.9,563.9 L196.2,576.6 L196.5,579.3 L196.8,571.8 L197.1,574.8 L197.4,582.9 L197.7,575.0 L198.0,563.9 L198.3,567.2 L198.6,570.8 L198.9,575.5 L199.2,575.6 L199.5,567.6 L199.8,573.0 L200.1,580.6 L200.4,578.7 L200.7,572.4 L201.0,570.8 L201.3,571.2 L201.6,573.0 L201.9,574.5 L202.2,574.3 L202.5,576.4 L202.8,582.5 L203.1,580.9 L203.4,574.3 L203.7,573.1 L204.0,575.1 L204.3,574.8 L204.6,574.0 L204.9,579.3 L205.2,583.1 L205.5,579.5 L205.8,577.9 L206.1,580.8 L206.4,580.7 L206.7,578.3 L207.0,578.5 L207.3,578.0 L207.6,577.5 L207.9,577.4 L208.2,577.6 L208.5,577.5 L208.8,574.9 L209.1,574.0 L209.4,576.6 L209.7,574.3 L210.0,567.3 L210.3,568.4 L210.6,573.4 L210.9,572.9 L211.2,571.5 L211.5,571.3 L211.8,570.5 L212.1,566.9 L212.4,564.6 L212.7,563.9 L213.0,564.7 L213.3,568.7 L213.6,566.8 L213.9,559.8 L214.2,558.0 L214.5,557.4 L214.8,564.8 L215.1,572.1 L215.4,578.5 L215.7,579.9 L216.0,571.2 L216.3,567.4 L216.6,569.7 L216.9,567.3 L217.2,560.5 L217.5,558.7 L217.8,558.5 L218.1,561.8 L218.4,565.8 L218.7,572.9 L219.0,576.7 L219.3,573.2 L219.6,571.0 L219.9,569.9 L220.2,564.3 L220.5,557.6 L220.8,558.1 L221.1,559.2 L221.4,561.4 L221.7,564.7 L222.0,569.2 L222.3,571.2 L222.6,565.3 L222.9,565.1 L223.2,570.6 L223.5,569.9 L223.8,566.4 L224.1,562.7 L224.4,559.2 L224.7,565.5 L225.0,570.7 L225.3,570.4 L225.6,572.2 L225.9,576.3 L226.2,578.3 L226.5,578.2 L226.8,576.4 L227.1,573.5 L227.4,572.1 L227.7,570.8 L228.0,571.8 L228.3,573.5 L228.6,572.9 L228.9,572.9 L229.2,574.0 L229.5,575.0 L229.8,576.0 L230.1,579.0 L230.4,582.4 L230.7,580.4 L231.0,578.1 L231.3,576.9 L231.6,576.2 L231.9,576.4 L232.2,577.1 L232.5,577.8 L232.8,577.8 L233.1,577.0 L233.4,578.1 L233.7,579.7 L234.0,580.2 L234.3,580.6 L234.6,581.7 L234.9,582.7 L235.2,583.2 L235.5,584.0 L235.8,585.2 L236.1,586.1 L236.4,586.5 L236.7,587.2 L237.0,588.1 L237.3,589.9 L237.6,592.1 L237.9,593.5 L238.2,594.9 L238.5,596.1 L238.8,597.5 L239.1,599.1 L239.4,601.0 L239.7,603.2 L240.0,604.5 L240.3,605.2 L240.6,607.7 L240.9,610.7 L241.2,612.6 L241.5,614.6 L241.8,616.5 L242.1,618.4 L242.4,620.5 L242.7,622.5 L243.0,624.2 L243.3,626.5 L243.6,629.3 L243.9,631.6 L244.2,633.7 L244.5,636.3 L244.8,638.9 L245.1,641.2 L245.4,643.2 L245.7,644.9 L246.0,646.8 L246.3,648.8 L246.6,651.5 L246.9,654.6 L247.2,657.3 L247.5,661.2 L247.8,658.4 L248.1,655.1 L248.4,656.6 L248.7,659.6 L249.0,666.3 L249.3,667.7 L249.6,664.0 L249.9,665.1 L250.2,668.6 L250.5,673.0 L250.8,677.6 L251.1,675.0 L251.4,673.6 L251.7,675.8 L252.0,680.0 L252.3,688.5 L252.6,693.6 L252.9,694.6 L253.2,694.8 L253.5,694.6 L253.8,698.1 L254.1,701.9 L254.4,703.7 L254.7,706.2 L255.0,709.7 L255.3,712.8 L255.6,717.1 L255.9,720.5 L256.2,721.7 L256.5,725.9 L256.8,733.5 L257.1,734.3 L257.4,733.0 L257.7,736.5 L258.0,739.8 L258.3,743.1 L258.6,744.4 L258.9,741.6 L259.2,740.2 L259.5,740.5 L259.8,739.5 L260.1,738.8 L260.4,739.0 L260.7,737.1 L261.0,739.4 L261.3,741.8 L261.6,737.3 L261.9,737.5 L262.2,745.1 L262.5,742.9 L262.8,730.3 L263.1,731.7 L263.4,740.4 L263.7,732.4 L264.0,720.9 L264.3,723.2 L264.6,726.1 L264.9,733.4 L265.2,736.7 L265.5,737.6 L265.8,736.0 L266.1,731.5 L266.4,729.1 L266.7,729.2 L267.0,734.8 L267.3,741.6 L267.6,737.1 L267.9,731.9 L268.2,723.0 L268.5,719.6 L268.8,727.3 L269.1,735.7 L269.4,742.3 L269.7,738.7 L270.0,730.7 L270.3,734.7 L270.6,742.3 L270.9,729.8 L271.2,720.9 L271.5,729.5 L271.8,732.9 L272.1,728.4 L272.4,725.1 L272.7,722.7 L273.0,719.6 L273.3,716.1 L273.6,710.2 L273.9,704.9 L274.2,703.7 L274.5,701.8 L274.8,699.3 L275.1,697.1 L275.4,695.3 L275.7,693.6 L276.0,692.0 L276.3,690.8 L276.6,689.7 L276.9,689.1 L277.2,688.9 L277.5,685.2 L277.8,681.6 L278.1,684.6 L278.4,686.3 L278.7,683.5 L279.0,681.3 L279.3,679.5 L279.6,676.2 L279.9,672.2 L280.2,669.7 L280.5,667.4 L280.8,666.0 L281.1,664.7 L281.4,663.2 L281.7,660.1 L282.0,654.3 L282.3,649.7 L282.6,646.9 L282.9,646.0 L283.2,645.2 L283.5,641.1 L283.8,636.4 L284.1,638.3 L284.4,639.1 L284.7,635.9 L285.0,633.2 L285.3,631.4 L285.6,627.5 L285.9,621.8 L286.2,619.6 L286.5,617.8 L286.8,614.9 L287.1,612.1 L287.4,614.6 L287.7,616.5 L288.0,614.9 L288.3,611.8 L288.6,606.3 L288.9,606.3 L289.2,616.6 L289.5,615.3 L289.8,604.1 L290.1,606.1 L290.4,611.2 L290.7,607.7 L291.0,604.7 L291.3,605.0 L291.6,607.5 L291.9,614.4 L292.2,611.0 L292.5,599.8 L292.8,598.7 L293.1,599.2 L293.4,595.8 L293.7,592.4 L294.0,585.6 L294.3,580.0 L294.6,584.3 L294.9,593.2 L295.2,603.9 L295.5,601.3 L295.8,586.4 L296.1,576.5 L296.4,569.3 L296.7,576.1 L297.0,588.4 L297.3,585.4 L297.6,583.0 L297.9,588.7 L298.2,590.0 L298.5,582.6 L298.8,575.4 L299.1,568.4 L299.4,571.8 L299.7,583.0 L300.0,582.3 L300.3,581.0 L300.6,580.5 L300.9,575.9 L301.2,584.9 L301.5,588.5 L301.8,574.9 L302.1,571.0 L302.4,580.4 L302.7,589.8 L303.0,598.6 L303.3,589.6 L303.6,577.7 L303.9,575.0 L304.2,573.2 L304.5,583.9 L304.8,596.1 L305.1,612.4 L305.4,619.5 L305.7,617.3 L306.0,614.9 L306.3,612.4 L306.6,593.1 L306.9,570.4 L307.2,575.4 L307.5,583.8 L307.8,588.0 L308.1,584.6 L308.4,578.9 L308.7,578.1 L309.0,581.5 L309.3,579.8 L309.6,575.6 L309.9,574.1 L310.2,573.2 L310.5,586.0 L310.8,591.7 L311.1,571.0 L311.4,558.8 L311.7,559.1 L312.0,564.4 L312.3,578.6 L312.6,576.2 L312.9,560.9 L313.2,556.8 L313.5,555.3 L313.8,552.4 L314.1,551.8 L314.4,562.3 L314.7,570.7 L315.0,574.5 L315.3,570.7 L315.6,563.0 L315.9,560.7 L316.2,560.4 L316.5,560.5 L316.8,560.8 L317.1,560.5 L317.4,562.7 L317.7,577.6 L318.0,587.5 L318.3,583.9 L318.6,582.1 L318.9,581.4 L319.2,579.2 L319.5,577.6 L319.8,574.2 L320.1,569.9 L320.4,575.0 L320.7,578.9 L321.0,576.4 L321.3,576.9 L321.6,582.2 L321.9,586.6 L322.2,590.2 L322.5,591.8 L322.8,592.6 L323.1,593.8 L323.4,594.9 L323.7,590.8 L324.0,586.5 L324.3,587.7 L324.6,589.7 L324.9,593.4 L325.2,595.2 L325.5,594.9 L325.8,590.4 L326.1,583.3 L326.4,582.4 L326.7,582.0 L327.0,580.0 L327.3,578.3 L327.6,578.4 L327.9,579.4 L328.2,582.3 L328.5,578.4 L328.8,569.4 L329.1,568.9 L329.4,571.7 L329.7,571.4 L330.0,570.6 L330.3,576.4 L330.6,582.6 L330.9,585.4 L331.2,585.5 L331.5,579.6 L331.8,579.3 L332.1,585.5 L332.4,582.4 L332.7,573.9 L333.0,578.0 L333.3,583.5 L333.6,589.2 L333.9,593.4 L334.2,594.1 L334.5,593.8 L334.8,591.6 L335.1,588.8 L335.4,586.8 L335.7,584.1 L336.0,580.8 L336.3,579.7 L336.6,579.6 L336.9,580.7 L337.2,581.9 L337.5,583.9 L337.8,585.2 L338.1,584.8 L338.4,585.9 L338.7,588.2 L339.0,582.6 L339.3,575.5 L339.6,578.7 L339.9,584.1 L340.2,577.0 L340.5,571.8 L340.8,575.9 L341.1,578.8 L341.4,579.9 L341.7,580.1 L342.0,579.5 L342.3,577.0 L342.6,574.3 L342.9,577.5 L343.2,580.1 L343.5,578.0 L343.8,575.6 L344.1,571.7 L344.4,568.4 L344.7,566.6 L345.0,567.2 L345.3,569.8 L345.6,567.1 L345.9,561.7 L346.2,564.1 L346.5,567.9 L346.8,564.4 L347.1,561.5 L347.4,562.3 L347.7,561.8 L348.0,559.3 L348.3,557.5 L348.6,556.2 L348.9,556.9 L349.2,558.1 L349.5,556.8 L349.8,554.5 L350.1,552.6 L350.4,551.0 L350.7,551.9 L351.0,554.2 L351.3,559.3 L351.6,560.0 L351.9,556.4 L352.2,558.3 L352.5,562.4 L352.8,561.7 L353.1,559.9 L353.4,555.8 L353.7,552.3 L354.0,558.5 L354.3,562.1 L354.6,556.2 L354.9,548.6 L355.2,541.6 L355.5,539.8 L355.8,540.4 L356.1,551.9 L356.4,568.9 L356.7,562.0 L357.0,555.3 L357.3,549.5 L357.6,551.7 L357.9,569.7 L358.2,575.6 L358.5,569.6 L358.8,560.5 L359.1,549.9 L359.4,554.4 L359.7,562.1 L360.0,571.0 L360.3,579.3 L360.6,583.9 L360.9,582.0 L361.2,563.7 L361.5,562.8 L361.8,579.3 L362.1,583.7 L362.4,582.7 L362.7,575.1 L363.0,567.0 L363.3,572.1 L363.6,575.2 L363.9,573.8 L364.2,570.3 L364.5,564.5 L364.8,563.8 L365.1,568.0 L365.4,574.6 L365.7,582.9 L366.0,581.7 L366.3,578.1 L366.6,578.1 L366.9,578.5 L367.2,581.0 L367.5,584.8 L367.8,590.7 L368.1,592.3 L368.4,590.7 L368.7,592.4 L369.0,595.7 L369.3,600.6 L369.6,606.1 L369.9,607.8 L370.2,609.3 L370.5,609.5 L370.8,609.5 L371.1,609.2 L371.4,609.4 L371.7,609.8 L372.0,611.5 L372.3,613.7 L372.6,617.1 L372.9,620.2 L373.2,619.3 L373.5,619.2 L373.8,620.7 L374.1,623.1 L374.4,626.9 L374.7,628.6 L375.0,627.9 L375.3,628.9 L375.6,630.9 L375.9,633.0 L376.2,635.2 L376.5,640.2 L376.8,645.1 L377.1,647.2 L377.4,648.9 L377.7,649.8 L378.0,652.4 L378.3,656.4 L378.6,659.1 L378.9,661.2 L379.2,663.3 L379.5,665.4 L379.8,668.1 L380.1,670.7 L380.4,672.2 L380.7,673.6 L381.0,676.7 L381.3,680.0 L381.6,682.9 L381.9,683.6 L382.2,683.0 L382.5,687.0 L382.8,691.9 L383.1,693.2 L383.4,695.6 L383.7,699.7 L384.0,702.4 L384.3,701.0 L384.6,702.2 L384.9,706.5 L385.2,707.6 L385.5,707.0 L385.8,710.1 L386.1,713.8 L386.4,711.6 L386.7,710.9 L387.0,717.2 L387.3,722.2 L387.6,723.5 L387.9,722.7 L388.2,719.3 L388.5,721.3 L388.8,727.4 L389.1,730.8 L389.4,737.3 L389.7,743.2 L390.0,742.5 L390.3,739.2 L390.6,737.0 L390.9,737.2 L391.2,737.5 L391.5,738.0 L391.8,736.2 L392.1,733.2 L392.4,733.4 L392.7,734.1 L393.0,731.7 L393.3,730.9 L393.6,740.3 L393.9,745.1 L394.2,745.2 L394.5,744.9 L394.8,744.1 L395.1,743.5 L395.4,743.2 L395.7,737.1 L396.0,732.3 L396.3,731.5 L396.6,730.6 L396.9,730.7 L397.2,730.7 L397.5,731.0 L397.8,733.4 L398.1,737.1 L398.4,736.5 L398.7,734.2 L399.0,734.3 L399.3,734.6 L399.6,726.7 L399.9,719.1 L400.2,724.8 L400.5,728.1 L400.8,723.0 L401.1,716.6 L401.4,708.9 L401.7,704.3 L402.0,701.5 L402.3,697.5 L402.6,693.1 L402.9,702.3 L403.2,706.6 L403.5,699.4 L403.8,692.4 L404.1,685.4 L404.4,680.3 L404.7,677.3 L405.0,678.0 L405.3,680.8 L405.6,678.5 L405.9,675.3 L406.2,668.0 L406.5,662.9 L406.8,669.3 L407.1,671.3 L407.4,664.1 L407.7,662.6 L408.0,665.5 L408.3,662.7 L408.6,658.8 L408.9,658.0 L409.2,656.4 L409.5,656.8 L409.8,656.3 L410.1,651.8 L410.4,648.4 L410.7,647.0 L411.0,645.5 L411.3,642.6 L411.6,640.6 L411.9,640.0 L412.2,634.1 L412.5,627.1 L412.8,626.1 L413.1,625.8 L413.4,629.0 L413.7,630.5 L414.0,628.8 L414.3,626.9 L414.6,624.8 L414.9,621.2 L415.2,614.9 L415.5,613.8 L415.8,613.7 L416.1,614.5 L416.4,615.5 L416.7,618.7 L417.0,619.0 L417.3,613.6 L417.6,609.0 L417.9,604.9 L418.2,605.0 L418.5,606.4 L418.8,608.6 L419.1,609.2 L419.4,607.1 L419.7,605.3 L420.0,604.7 L420.3,603.3 L420.6,600.7 L420.9,598.2 L421.2,595.9 L421.5,593.3 L421.8,590.5 L422.1,590.4 L422.4,590.8 L422.7,588.1 L423.0,585.3 L423.3,581.2 L423.6,578.1 L423.9,575.6 L424.2,575.6 L424.5,577.7 L424.8,577.5 L425.1,576.4 L425.4,573.2 L425.7,569.6 L426.0,569.1 L426.3,568.5 L426.6,568.0 L426.9,567.8 L427.2,568.4 L427.5,569.6 L427.8,570.0 L428.1,571.0 L428.4,572.6 L428.7,577.1 L429.0,583.1 L429.3,581.5 L429.6,580.6 L429.9,583.2 L430.2,583.7 L430.5,580.1 L430.8,575.8 L431.1,570.8 L431.4,570.2 L431.7,573.4 L432.0,578.8 L432.3,583.4 L432.6,581.6 L432.9,581.6 L433.2,583.9 L433.5,586.4 L433.8,587.6 L434.1,587.7 L434.4,587.1 L434.7,586.3 L435.0,585.3 L435.3,584.3 L435.6,583.3 L435.9,579.3 L436.2,574.7 L436.5,573.1 L436.8,570.3 L437.1,563.7 L437.4,563.3 L437.7,571.7 L438.0,569.7 L438.3,561.3 L438.6,557.9 L438.9,557.6 L439.2,561.1 L439.5,564.0 L439.8,565.2 L440.1,563.8 L440.4,557.8 L440.7,557.2 L441.0,559.0 L441.3,556.2 L441.6,550.6 L441.9,563.8 L442.2,581.8 L442.5,568.0 L442.8,556.2 L443.1,557.9 L443.4,557.3 L443.7,556.2 L444.0,562.4 L444.3,573.7 L444.6,580.3 L444.9,584.8 L445.2,587.5 L445.5,589.6 L445.8,581.7 L446.1,574.8 L446.4,582.9 L446.7,587.6 L447.0,584.3 L447.3,580.6 L447.6,576.3 L447.9,572.6 L448.2,569.1 L448.5,578.4 L448.8,587.2 L449.1,590.1 L449.4,590.5 L449.7,579.3 L450.0,571.9 L450.3,572.4 L450.6,573.5 L450.9,575.0 L451.2,577.9 L451.5,582.5 L451.8,579.2 L452.1,572.7 L452.4,577.7 L452.7,581.1 L453.0,575.3 L453.3,571.5 L453.6,571.5 L453.9,571.1 L454.2,569.9 L454.5,568.7 L454.8,567.7 L455.1,572.0 L455.4,575.9 L455.7,574.6 L456.0,575.2 L456.3,573.8 L456.6,574.1 L456.9,578.6 L457.2,578.3 L457.5,573.2 L457.8,574.5 L458.1,579.0 L458.4,581.9 L458.7,584.6 L459.0,584.3 L459.3,584.9 L459.6,588.8 L459.9,591.7 L460.2,592.8 L460.5,591.3 L460.8,587.0 L461.1,589.7 L461.4,595.4 L461.7,593.4 L462.0,590.4 L462.3,591.4 L462.6,590.7 L462.9,587.0 L463.2,584.4 L463.5,585.7 L463.8,585.0 L464.1,581.3 L464.4,582.9 L464.7,588.2 L465.0,585.6 L465.3,581.8 L465.6,585.0 L465.9,586.8 L466.2,581.7 L466.5,578.1 L466.8,579.0 L467.1,580.3 L467.4,585.5 L467.7,583.9 L468.0,575.0 L468.3,572.3 L468.6,570.8 L468.9,579.2 L469.2,586.5 L469.5,588.5 L469.8,585.7 L470.1,574.1 L470.4,570.0 L470.7,571.3 L471.0,576.6 L471.3,582.6 L471.6,582.9 L471.9,583.0 L472.2,587.5 L472.5,589.7 L472.8,589.6 L473.1,589.4 L473.4,588.8 L473.7,587.2 L474.0,584.1 L474.3,581.7 L474.6,579.8 L474.9,578.5 L475.2,577.6 L475.5,578.1 L475.8,577.7 L476.1,568.8 L476.4,561.2 L476.7,558.5 L477.0,554.5 L477.3,548.8 L477.6,550.9 L477.9,558.2 L478.2,553.3 L478.5,546.0 L478.8,541.9 L479.1,539.9 L479.4,547.3 L479.7,551.3 L480.0,550.8 L480.3,551.7 L480.6,549.3 L480.9,548.5 L481.2,549.6 L481.5,545.6 L481.8,540.6 L482.1,543.0 L482.4,544.3 L482.7,539.7 L483.0,538.4 L483.3,542.4 L483.6,545.1 L483.9,547.2 L484.2,554.0 L484.5,560.9 L484.8,562.1 L485.1,562.6 L485.4,563.5 L485.7,564.6 L486.0,566.8 L486.3,568.6 L486.6,568.3 L486.9,570.7 L487.2,577.5 L487.5,578.5 L487.8,576.7 L488.1,582.3 L488.4,589.5 L488.7,583.5 L489.0,578.2 L489.3,576.0 L489.6,574.7 L489.9,574.9 L490.2,575.5 L490.5,576.3 L490.8,583.3 L491.1,593.1 L491.4,593.4 L491.7,591.5 L492.0,584.3 L492.3,578.8 L492.6,584.7 L492.9,586.1 L493.2,579.9 L493.5,581.7 L493.8,590.8 L494.1,592.3 L494.4,590.8 L494.7,588.9 L495.0,587.7 L495.3,586.9 L495.6,586.1 L495.9,589.0 L496.2,592.0 L496.5,595.3 L496.8,595.2 L497.1,591.6 L497.4,593.5 L497.7,598.2 L498.0,602.9 L498.3,607.7 L498.6,606.1 L498.9,604.8 L499.2,606.4 L499.5,608.2 L499.8,610.5 L500.1,611.7 L500.4,611.8 L500.7,613.3 L501.0,615.5 L501.3,622.2 L501.6,629.8 L501.9,631.9 L502.2,633.4 L502.5,632.5 L502.8,632.4 L503.1,634.3 L503.4,636.7 L503.7,641.3 L504.0,644.1 L504.3,647.4 L504.6,652.6 L504.9,655.6 L505.2,657.4 L505.5,659.1 L505.8,661.2 L506.1,663.4 L506.4,665.6 L506.7,667.8 L507.0,669.9 L507.3,672.1 L507.6,674.3 L507.9,675.6 L508.2,676.8 L508.5,676.6 L508.8,676.5 L509.1,681.1 L509.4,684.7 L509.7,683.9 L510.0,683.1 L510.3,683.2 L510.6,684.4 L510.9,686.3 L511.2,686.7 L511.5,686.9 L511.8,688.9 L512.1,690.9 L512.4,693.0 L512.7,696.7 L513.0,704.1 L513.3,706.4 L513.6,703.4 L513.9,704.6 L514.2,708.0 L514.5,708.9 L514.8,709.2 L515.1,711.0 L515.4,714.8 L515.7,721.3 L516.0,725.1 L516.3,725.8 L516.6,727.0 L516.9,729.0 L517.2,731.1 L517.5,733.5 L517.8,734.1 L518.1,734.3 L518.4,737.1 L518.7,740.2 L519.0,741.8 L519.3,743.4 L519.6,745.3 L519.9,746.7 L520.2,747.1 L520.5,748.7 L520.8,750.0 L521.1,751.7 L521.4,753.4 L521.7,751.2 L522.0,749.4 L522.3,749.7 L522.6,750.8 L522.9,753.0 L523.2,752.5 L523.5,748.9 L523.8,746.8 L524.1,745.5 L524.4,740.0 L524.7,733.5 L525.0,738.3 L525.3,741.1 L525.6,732.9 L525.9,727.4 L526.2,725.6 L526.5,723.7 L526.8,721.9 L527.1,721.2 L527.4,720.8 L527.7,719.4 L528.0,718.0 L528.3,714.5 L528.6,711.7 L528.9,710.5 L529.2,707.8 L529.5,702.4 L529.8,699.6 L530.1,700.2 L530.4,700.9 L530.7,701.8 L531.0,697.0 L531.3,691.3 L531.6,693.0 L531.9,694.0 L532.2,691.0 L532.5,688.9 L532.8,687.4 L533.1,688.5 L533.4,694.6 L533.7,698.5 L534.0,700.2 L534.3,699.2 L534.6,698.5 L534.9,695.6 L535.2,692.3 L535.5,687.2 L535.8,685.4 L536.1,690.5 L536.4,690.9 L536.7,686.6 L537.0,678.1 L537.3,670.8 L537.6,673.2 L537.9,673.6 L538.2,670.7 L538.5,668.6 L538.8,670.7 L539.1,667.8 L539.4,659.4 L539.7,655.9 L540.0,655.3 L540.3,651.6 L540.6,646.2 L540.9,640.5 L541.2,634.8 L541.5,635.2 L541.8,635.5 L542.1,629.0 L542.4,624.8 L542.7,625.3 L543.0,624.1 L543.3,621.2 L543.6,621.0 L543.9,622.3 L544.2,623.9 L544.5,625.6 L544.8,620.4 L545.1,615.1 L545.4,609.6 L545.7,606.6 L546.0,608.8 L546.3,610.8 L546.6,612.7 L546.9,609.0 L547.2,603.7 L547.5,609.1 L547.8,614.4 L548.1,612.1 L548.4,609.3 L548.7,606.0 L549.0,604.9 L549.3,608.2 L549.6,607.7 L549.9,604.1 L550.2,603.8 L550.5,604.5 L550.8,604.6 L551.1,604.1 L551.4,602.8 L551.7,601.6 L552.0,603.5 L552.3,605.2 L552.6,604.9 L552.9,605.3 L553.2,606.7 L553.5,604.8 L553.8,601.1 L554.1,605.5 L554.4,611.4 L554.7,604.2 L555.0,598.7 L555.3,600.7 L555.6,602.7 L555.9,604.9 L556.2,603.7 L556.5,599.0 L556.8,591.0 L557.1,580.5 L557.4,583.9 L557.7,591.6 L558.0,584.2 L558.3,579.1 L558.6,581.0 L558.9,583.4 L559.2,587.1 L559.5,584.1 L559.8,575.9 L560.1,568.7 L560.4,562.7 L560.7,568.0 L561.0,575.5 L561.3,565.5 L561.6,558.4 L561.9,565.8 L562.2,570.0 L562.5,567.9 L562.8,566.6 L563.1,567.0 L563.4,567.2 L563.7,566.9 L564.0,563.6 L564.3,559.8 L564.6,561.5 L564.9,563.3 L565.2,565.3 L565.5,566.2 L565.8,565.3 L566.1,565.3 L566.4,565.5 L566.7,564.3 L567.0,562.7 L567.3,565.6 L567.6,569.2 L567.9,569.6 L568.2,570.2 L568.5,571.8 L568.8,571.7 L569.1,568.7 L569.4,566.0 L569.7,562.0 L570.0,561.6 L570.3,564.6 L570.6,563.2 L570.9,561.0 L571.2,562.8 L571.5,564.3 L571.8,565.2 L572.1,564.8 L572.4,562.7 L572.7,562.0 L573.0,562.4 L573.3,563.4 L573.6,564.9 L573.9,566.6 L574.2,568.8 L574.5,569.7 L574.8,570.2 L575.1,568.7 L575.4,568.2 L575.7,569.2 L576.0,571.1 L576.3,574.2 L576.6,575.9 L576.9,576.3 L577.2,581.8 L577.5,587.8 L577.8,587.9 L578.1,587.7 L578.4,586.4 L578.7,583.6 L579.0,578.4 L579.3,574.8 L579.6,573.2 L579.9,574.4 L580.2,577.0 L580.5,574.3 L580.8,570.4 L581.1,570.0 L581.4,570.7 L581.7,575.4 L582.0,576.6 L582.3,573.2 L582.6,569.2 L582.9,565.1 L583.2,565.8 L583.5,569.1 L583.8,570.7 L584.1,571.7 L584.4,569.7 L584.7,567.5 L585.0,566.8 L585.3,566.3 L585.6,566.7 L585.9,568.6 L586.2,572.5 L586.5,571.6 L586.8,569.0 L587.1,566.7 L587.4,563.7 L587.7,560.5 L588.0,557.7 L588.3,558.1 L588.6,557.7 L588.9,554.9 L589.2,556.9 L589.5,562.3 L589.8,562.7 L590.1,560.5 L590.4,559.7 L590.7,560.0 L591.0,558.7 L591.3,559.3 L591.6,570.2 L591.9,574.6 L592.2,566.2 L592.5,564.5 L592.8,569.4 L593.1,567.2 L593.4,561.5 L593.7,556.3 L594.0,555.5 L594.3,567.2 L594.6,573.6 L594.9,573.1 L595.2,570.8 L595.5,564.7 L595.8,564.4 L596.1,569.5 L596.4,570.6 L596.7,569.9 L597.0,566.9 L597.3,563.9 L597.6,566.9 L597.9,568.1 L598.2,565.2 L598.5,564.0 L598.8,564.8 L599.1,566.8 L599.4,569.1 L599.7,569.5 L600.0,568.1 L600.3,569.2 L600.6,571.1 L600.9,576.4 L601.2,581.6 L601.5,583.0 L601.8,582.2 L602.1,576.8 L602.4,570.6 L602.7,565.4 L603.0,569.5 L603.3,578.0 L603.6,571.1 L603.9,555.8 L604.2,559.4 L604.5,563.4 L604.8,553.5 L605.1,551.8 L605.4,562.0 L605.7,569.5 L606.0,574.4 L606.3,573.7 L606.6,570.2 L606.9,570.8 L607.2,571.6 L607.5,556.0 L607.8,545.7 L608.1,547.5 L608.4,548.8 L608.7,548.9 L609.0,551.4 L609.3,556.6 L609.6,562.0 L609.9,566.3 L610.2,567.8 L610.5,568.6 L610.8,569.2 L611.1,569.6 L611.4,569.0 L611.7,567.7 L612.0,565.4 L612.3,566.3 L612.6,569.3 L612.9,571.7 L613.2,573.6 L613.5,572.5 L613.8,570.1 L614.1,570.0 L614.4,570.3 L614.7,572.6 L615.0,573.3 L615.3,570.9 L615.6,568.4 L615.9,565.7 L616.2,566.8 L616.5,570.3 L616.8,570.3 L617.1,569.4 L617.4,568.6 L617.7,566.9 L618.0,563.9 L618.3,563.3 L618.6,566.6 L618.9,566.5 L619.2,563.3 L619.5,563.1 L619.8,564.6 L620.1,564.8 L620.4,564.7 L620.7,563.7 L621.0,563.1 L621.3,563.1 L621.6,563.8 L621.9,564.7 L622.2,565.7 L622.5,567.2 L622.8,569.9 L623.1,573.4 L623.4,575.6 L623.7,577.5 L624.0,578.8 L624.3,579.6 L624.6,578.3 L624.9,579.2 L625.2,584.8 L625.5,587.2 L625.8,586.6 L626.1,588.4 L626.4,591.2 L626.7,595.8 L627.0,600.4 L627.3,603.1 L627.6,605.7 L627.9,607.8 L628.2,609.9 L628.5,611.9 L628.8,613.0 L629.1,612.7 L629.4,612.4 L629.7,612.8 L630.0,616.6 L630.3,621.1 L630.6,623.1 L630.9,626.3 L631.2,634.4 L631.5,637.6 L631.8,634.2 L632.1,637.9 L632.4,648.7 L632.7,647.5 L633.0,640.4 L633.3,639.2 L633.6,639.1 L633.9,642.5 L634.2,645.0 L634.5,646.0 L634.8,650.6 L635.1,659.9 L635.4,664.0 L635.7,659.5 L636.0,662.8 L636.3,669.9 L636.6,667.9 L636.9,663.9 L637.2,665.6 L637.5,666.7 L637.8,664.4 L638.1,663.1 L638.4,662.8 L638.7,661.8 L639.0,660.3 L639.3,660.6 L639.6,661.7 L639.9,666.0 L640.2,673.1 L640.5,673.9 L640.8,675.2 L641.1,683.8 L641.4,690.7 L641.7,690.6 L642.0,688.5 L642.3,685.6 L642.6,689.0 L642.9,696.8 L643.2,705.0 L643.5,713.5 L643.8,713.5 L644.1,715.3 L644.4,725.6 L644.7,731.8 L645.0,731.4 L645.3,730.6 L645.6,729.7 L645.9,731.5 L646.2,734.4 L646.5,740.0 L646.8,744.5 L647.1,746.2 L647.4,746.3 L647.7,742.8 L648.0,741.0 L648.3,746.6 L648.6,750.5 L648.9,751.6 L649.2,752.5 L649.5,752.8 L649.8,746.8 L650.1,740.0 L650.4,740.7 L650.7,741.7 L651.0,744.4 L651.3,747.8 L651.6,752.9 L651.9,755.5 L652.2,754.1 L652.5,748.4 L652.8,740.3 L653.1,742.4 L653.4,746.5 L653.7,743.8 L654.0,740.9 L654.3,737.2 L654.6,735.8 L654.9,736.0 L655.2,738.2 L655.5,740.0 L655.8,737.9 L656.1,733.7 L656.4,733.9 L656.7,735.2 L657.0,735.0 L657.3,734.1 L657.6,730.6 L657.9,728.1 L658.2,727.1 L658.5,726.0 L658.8,724.9 L659.1,722.4 L659.4,719.5 L659.7,716.7 L660.0,714.3 L660.3,713.5 L660.6,712.6 L660.9,711.1 L661.2,709.8 L661.5,709.6 L661.8,708.9 L662.1,707.2 L662.4,707.7 L662.7,709.5 L663.0,703.7 L663.3,696.4 L663.6,695.9 L663.9,695.6 L664.2,694.8 L664.5,693.8 L664.8,693.0 L665.1,692.3 L665.4,691.5 L665.7,683.0 L666.0,670.6 L666.3,668.0 L666.6,667.2 L666.9,662.4 L667.2,658.6 L667.5,660.3 L667.8,659.3 L668.1,654.5 L668.4,650.8 L668.7,647.7 L669.0,648.4 L669.3,651.2 L669.6,647.5 L669.9,642.5 L670.2,646.8 L670.5,650.2 L670.8,648.3 L671.1,645.8 L671.4,642.2 L671.7,641.1 L672.0,643.0 L672.3,638.5 L672.6,630.3 L672.9,628.0 L673.2,626.8 L673.5,626.1 L673.8,625.7 L674.1,628.8 L674.4,633.3 L674.7,637.6 L675.0,641.2 L675.3,640.6 L675.6,631.4 L675.9,617.9 L676.2,617.4 L676.5,619.6 L676.8,616.4 L677.1,615.4 L677.4,624.7 L677.7,628.6 L678.0,621.3 L678.3,616.0 L678.6,613.7 L678.9,615.2 L679.2,619.4 L679.5,615.9 L679.8,610.9 L680.1,606.8 L680.4,603.0 L680.7,603.9 L681.0,601.9 L681.3,596.0 L681.6,590.7 L681.9,586.3 L682.2,584.3 L682.5,583.3 L682.8,583.1 L683.1,583.1 L683.4,583.0 L683.7,582.8 L684.0,581.2 L684.3,581.4 L684.6,583.1 L684.9,582.8 L685.2,581.5 L685.5,581.5 L685.8,582.0 L686.1,582.5 L686.4,583.1 L686.7,582.3 L687.0,582.2 L687.3,585.0 L687.6,587.7 L687.9,588.0 L688.2,590.0 L688.5,594.2 L688.8,591.4 L689.1,583.7 L689.4,585.7 L689.7,590.1 L690.0,588.1 L690.3,587.2 L690.6,592.0 L690.9,595.5 L691.2,597.4 L691.5,595.0 L691.8,584.6 L692.1,585.9 L692.4,597.9 L692.7,594.5 L693.0,587.3 L693.3,579.5 L693.6,573.5 L693.9,576.9 L694.2,581.3 L694.5,590.5 L694.8,592.7 L695.1,581.5 L695.4,577.5 L695.7,577.3 L696.0,583.9 L696.3,591.9 L696.6,585.6 L696.9,575.0 L697.2,558.2 L697.5,545.9 L697.8,542.1 L698.1,550.9 L698.4,572.2 L698.7,576.6 L699.0,572.6 L699.3,564.3 L699.6,555.4 L699.9,559.2 L700.2,556.3 L700.5,543.5 L700.8,543.1 L701.1,560.6 L701.4,569.5 L701.7,569.3 L702.0,561.2 L702.3,552.1 L702.6,561.7 L702.9,572.3 L703.2,565.6 L703.5,563.4 L703.8,567.4 L704.1,570.7 L704.4,574.3 L704.7,577.4 L705.0,579.7 L705.3,581.8 L705.6,583.5 L705.9,584.9 L706.2,586.1 L706.5,587.6 L706.8,588.8 L707.1,588.2 L707.4,587.6 L707.7,587.6 L708.0,589.7 L708.3,594.1 L708.6,596.8 L708.9,598.2 L709.2,597.8 L709.5,597.0 L709.8,594.2 L710.1,589.7 L710.4,579.3 L710.7,577.7 L711.0,591.0 L711.3,588.8 L711.6,571.1 L711.9,564.7 L712.2,564.0 L712.5,571.3 L712.8,579.9 L713.1,575.8 L713.4,572.8 L713.7,572.3 L714.0,571.6 L714.3,567.7 L714.6,568.9 L714.9,576.2 L715.2,578.8 L715.5,579.2 L715.8,575.0 L716.1,570.2 L716.4,579.0 L716.7,585.0 L717.0,582.2 L717.3,581.2 L717.6,583.0 L717.9,582.9 L718.2,581.1 L718.5,580.4 L718.8,581.9 L719.1,583.1 L719.4,584.5 L719.7,583.8 L720.0,583.5 L720.3,581.7 L720.6,578.6 L720.9,573.0 L721.2,572.2 L721.5,575.6 L721.8,577.7 L722.1,580.3 L722.4,581.8 L722.7,582.6 L723.0,582.8 L723.3,581.6 L723.6,573.2 L723.9,567.9 L724.2,569.1 L724.5,574.6 L724.8,584.7 L725.1,583.6 L725.4,578.4 L725.7,578.2 L726.0,577.2 L726.3,572.8 L726.6,569.3 L726.9,574.3 L727.2,578.3 L727.5,579.5 L727.8,577.3 L728.1,571.3 L728.4,570.3 L728.7,571.4 L729.0,570.3 L729.3,568.9 L729.6,565.9 L729.9,564.4 L730.2,566.9 L730.5,567.1 L730.8,567.2 L731.1,566.5 L731.4,563.9 L731.7,568.8 L732.0,580.4 L732.3,579.0 L732.6,573.0 L732.9,571.9 L733.2,570.3 L733.5,566.3 L733.8,566.3 L734.1,574.3 L734.4,578.3 L734.7,578.2 L735.0,577.5 L735.3,574.6 L735.6,574.5 L735.9,576.6 L736.2,570.3 L736.5,564.8 L736.8,563.0 L737.1,560.9 L737.4,557.8 L737.7,560.1 L738.0,566.6 L738.3,571.6 L738.6,574.9 L738.9,565.1 L739.2,555.8 L739.5,559.0 L739.8,562.4 L740.1,566.3 L740.4,568.1 L740.7,563.5 L741.0,564.1 L741.3,571.2 L741.6,567.4 L741.9,558.5 L742.2,563.2 L742.5,570.4 L742.8,569.6 L743.1,569.2 L743.4,570.0 L743.7,572.0 L744.0,576.2 L744.3,575.3 L744.6,569.9 L744.9,569.4 L745.2,571.3 L745.5,570.4 L745.8,569.0 L746.1,577.0 L746.4,583.2 L746.7,579.0 L747.0,576.0 L747.3,574.9 L747.6,574.8 L747.9,575.7 L748.2,578.2 L748.5,581.7 L748.8,581.4 L749.1,580.6 L749.4,578.4 L749.7,578.0 L750.0,582.5 L750.3,583.6 L750.6,575.9 L750.9,574.6 L751.2,584.4 L751.5,586.7 L751.8,583.7 L752.1,577.8 L752.4,571.3 L752.7,578.9 L753.0,583.6 L753.3,573.8 L753.6,568.6 L753.9,572.2 L754.2,575.0 L754.5,577.4 L754.8,576.6 L755.1,574.2 L755.4,575.9 L755.7,578.4 L756.0,579.3 L756.3,582.1 L756.6,594.0 L756.9,600.7 L757.2,597.2 L757.5,603.0 L757.8,612.1 L758.1,613.7 L758.4,613.1 L758.7,616.6 L759.0,620.8 L759.3,619.3 L759.6,619.4 L759.9,624.1 L760.2,628.0 L760.5,628.0 L760.8,630.8 L761.1,636.6 L761.4,638.9 L761.7,639.5 L762.0,640.9 L762.3,642.5 L762.6,643.9 L762.9,645.4 L763.2,648.0 L763.5,651.4 L763.8,655.3 L764.1,658.8 L764.4,662.4 L764.7,664.5 L765.0,665.3 L765.3,668.9 L765.6,673.4 L765.9,675.4 L766.2,677.3 L766.5,678.7 L766.8,681.5 L767.1,686.3 L767.4,688.9 L767.7,690.1 L768.0,692.5 L768.3,695.5 L768.6,694.6 L768.9,692.9 L769.2,697.4 L769.5,701.6 L769.8,704.7 L770.1,707.6 L770.4,710.2 L770.7,713.3 L771.0,716.4 L771.3,717.7 L771.6,718.7 L771.9,721.0 L772.2,724.4 L772.5,727.1 L772.8,729.2 L773.1,729.5 L773.4,730.0 L773.7,731.9 L774.0,734.5 L774.3,738.0 L774.6,740.2 L774.9,741.7 L775.2,741.0 L775.5,740.1 L775.8,738.6 L776.1,734.8 L776.4,731.9 L776.7,732.3 L777.0,741.2 L777.3,740.4 L777.6,725.0 L777.9,724.7 L778.2,731.1 L778.5,726.2 L778.8,719.0 L779.1,720.0 L779.4,722.8 L779.7,734.6 L780.0,739.3 L780.3,733.2 L780.6,734.1 L780.9,739.3 L781.2,744.3 L781.5,749.2 L781.8,739.9 L782.1,726.7 L782.4,728.4 L782.7,732.8 L783.0,740.3 L783.3,743.0 L783.6,738.6 L783.9,740.2 L784.2,745.6 L784.5,747.8 L784.8,748.4 L785.1,746.5 L785.4,744.2 L785.7,746.8 L786.0,748.4 L786.3,744.5 L786.6,739.7 L786.9,733.3 L787.2,729.5 L787.5,728.5 L787.8,726.8 L788.1,724.8 L788.4,722.6 L788.7,720.4 L789.0,715.9 L789.3,711.5 L789.6,706.7 L789.9,704.3 L790.2,706.8 L790.5,704.3 L790.8,697.1 L791.1,695.5 L791.4,696.1 L791.7,695.4 L792.0,696.6 L792.3,691.8 L792.6,686.8 L792.9,687.6 L793.2,688.3 L793.5,689.9 L793.8,689.3 L794.1,686.5 L794.4,687.1 L794.7,689.5 L795.0,681.4 L795.3,671.4 L795.6,678.7 L795.9,683.1 L796.2,681.6 L796.5,679.3 L796.8,674.9 L797.1,673.4 L797.4,674.9 L797.7,671.9 L798.0,666.6 L798.3,665.6 L798.6,665.1 L798.9,662.9 L799.2,660.2 L799.5,656.3 L799.8,653.0 L800.1,650.5 L800.4,648.5 L800.7,647.4 L801.0,645.0 L801.3,641.7 L801.6,639.5 L801.9,637.4 L802.2,637.1 L802.5,636.5 L802.8,634.2 L803.1,632.2 L803.4,630.3 L803.7,627.8 L804.0,625.1 L804.3,623.8 L804.6,623.2 L804.9,621.1 L805.2,618.6 L805.5,617.4 L805.8,616.4 L806.1,615.2 L806.4,613.2 L806.7,609.0 L807.0,606.6 L807.3,605.9 L807.6,604.5 L807.9,602.8 L808.2,602.6 L808.5,602.5 L808.8,601.9 L809.1,600.9 L809.4,598.9 L809.7,596.9 L810.0,594.7 L810.3,594.9 L810.6,597.7 L810.9,598.8 L811.2,598.1 L811.5,598.4 L811.8,598.9 L812.1,598.9 L812.4,598.2 L812.7,595.4 L813.0,593.0 L813.3,591.5 L813.6,589.4 L813.9,586.8 L814.2,587.1 L814.5,588.7 L814.8,591.9 L815.1,594.7 L815.4,594.0 L815.7,592.9 L816.0,593.0 L816.3,592.6 L816.6,590.3 L816.9,589.3 L817.2,590.1 L817.5,590.3 L817.8,590.4 L818.1,589.5 L818.4,588.4 L818.7,584.7 L819.0,581.3 L819.3,578.4 L819.6,576.7 L819.9,577.9 L820.2,578.2 L820.5,577.8 L820.8,576.7 L821.1,575.3 L821.4,578.5 L821.7,582.6 L822.0,572.8 L822.3,561.9 L822.6,561.1 L822.9,565.5 L823.2,573.6 L823.5,575.9 L823.8,572.3 L824.1,573.9 L824.4,578.1 L824.7,578.3 L825.0,577.7 L825.3,566.4 L825.6,559.4 L825.9,563.7 L826.2,567.5 L826.5,568.4 L826.8,569.0 L827.1,569.1 L827.4,568.8 L827.7,568.4 L828.0,572.1 L828.3,576.4 L828.6,575.0 L828.9,573.7 L829.2,571.8 L829.5,573.3 L829.8,581.3 L830.1,584.4 L830.4,582.1 L830.7,585.7 L831.0,591.7 L831.3,593.9 L831.6,595.2 L831.9,590.7 L832.2,586.7 L832.5,582.1 L832.8,578.6 L833.1,579.3 L833.4,578.2 L833.7,576.4 L834.0,574.4 L834.3,572.4 L834.6,575.8 L834.9,580.2 L835.2,587.4 L835.5,592.6 L835.8,588.8 L836.1,583.8 L836.4,581.3 L836.7,578.8 L837.0,572.3 L837.3,571.1 L837.6,572.6 L837.9,572.5 L838.2,572.1 L838.5,572.3 L838.8,570.6 L839.1,561.2 L839.4,554.1 L839.7,558.7 L840.0,564.8 L840.3,572.4 L840.6,566.0 L840.9,552.5 L841.2,566.2 L841.5,585.4 L841.8,572.8 L842.1,564.8 L842.4,563.3 L842.7,562.7 L843.0,563.7 L843.3,564.4 L843.6,564.9 L843.9,564.3 L844.2,563.0 L844.5,574.1 L844.8,585.0 L845.1,589.5 L845.4,592.2 L845.7,590.7 L846.0,591.1 L846.3,593.3 L846.6,594.4 L846.9,593.9 L847.2,595.2 L847.5,597.1 L847.8,598.2 L848.1,598.8 L848.4,598.3 L848.7,597.4 L849.0,595.8 L849.3,594.9 L849.6,594.4 L849.9,593.9 L850.2,592.7 L850.5,591.0 L850.8,590.0 L851.1,586.5 L851.4,581.3 L851.7,578.6 L852.0,576.4 L852.3,578.0 L852.6,579.4 L852.9,578.5 L853.2,579.5 L853.5,581.1 L853.8,579.4 L854.1,576.0 L854.4,573.3 L854.7,570.4 L855.0,565.1 L855.3,562.1 L855.6,565.5 L855.9,566.6 L856.2,564.6 L856.5,562.3 L856.8,561.2 L857.1,563.3 L857.4,567.9 L857.7,569.4 L858.0,570.5 L858.3,565.7 L858.6,561.8 L858.9,565.4 L859.2,567.7 L859.5,567.7 L859.8,569.1 L860.1,571.7 L860.4,573.7 L860.7,575.3 L861.0,579.8 L861.3,584.5 L861.6,586.5 L861.9,588.2 L862.2,587.7 L862.5,587.1 L862.8,586.5 L863.1,585.5 L863.4,582.5 L863.7,581.6 L864.0,582.2 L864.3,581.7 L864.6,580.8 L864.9,583.3 L865.2,585.3 L865.5,581.6 L865.8,578.8 L866.1,578.5 L866.4,575.5 L866.7,569.3 L867.0,563.6 L867.3,558.8 L867.6,559.5 L867.9,562.1 L868.2,557.3 L868.5,554.4 L868.8,557.4 L869.1,558.0 L869.4,555.1 L869.7,556.7 L870.0,564.0 L870.3,564.5 L870.6,559.6 L870.9,558.2 L871.2,557.4 L871.5,555.2 L871.8,553.4 L872.1,554.6 L872.4,556.8 L872.7,561.2 L873.0,565.7 L873.3,568.6 L873.6,567.7 L873.9,566.0 L874.2,569.3 L874.5,572.2 L874.8,569.4 L875.1,566.6 L875.4,568.9 L875.7,570.5 L876.0,568.6 L876.3,567.7 L876.6,566.8 L876.9,570.6 L877.2,576.7 L877.5,579.0 L877.8,582.9 L878.1,580.4 L878.4,574.8 L878.7,570.7 L879.0,572.3 L879.3,585.6 L879.6,588.5 L879.9,581.2 L880.2,582.5 L880.5,588.2 L880.8,592.4 L881.1,596.3 L881.4,596.3 L881.7,595.1 L882.0,588.4 L882.3,584.7 L882.6,587.3 L882.9,589.5 L883.2,590.7 L883.5,589.6 L883.8,587.8 L884.1,588.8 L884.4,590.2 L884.7,591.8 L885.0,593.6 L885.3,595.1 L885.6,596.1 L885.9,596.2 L886.2,598.3 L886.5,603.5 L886.8,600.6 L887.1,593.6 L887.4,601.5 L887.7,612.6 L888.0,608.2 L888.3,605.8 L888.6,613.0 L888.9,616.3 L889.2,613.3 L889.5,615.2 L889.8,622.2 L890.1,624.8 L890.4,623.8 L890.7,628.4 L891.0,634.7 L891.3,631.1 L891.6,630.2 L891.9,644.4 L892.2,654.9 L892.5,658.8 L892.8,660.8 L893.1,661.2 L893.4,664.1 L893.7,668.2 L894.0,674.3 L894.3,679.8 L894.6,676.2 L894.9,676.0 L895.2,682.1 L895.5,686.0 L895.8,687.3 L896.1,688.8 L896.4,690.5 L896.7,691.5 L897.0,691.5 L897.3,693.8 L897.6,697.2 L897.9,697.1 L898.2,696.2 L898.5,691.0 L898.8,688.1 L899.1,692.0 L899.4,697.5 L899.7,702.7 L900.0,698.8 L900.3,690.9 L900.6,691.6 L900.9,693.9 L901.2,693.6 L901.5,694.1 L901.8,699.8 L902.1,703.5 L902.4,701.2 L902.7,699.6 L903.0,699.0 L903.3,710.4 L903.6,729.4 L903.9,730.3 L904.2,727.8 L904.5,728.0 L904.8,726.8 L905.1,719.1 L905.4,718.5 L905.7,725.3 L906.0,728.6 L906.3,729.3 L906.6,731.1 L906.9,732.7 L907.2,735.2 L907.5,737.8 L907.8,741.9 L908.1,745.4 L908.4,746.9 L908.7,747.3 L909.0,742.3 L909.3,738.3 L909.6,738.6 L909.9,737.3 L910.2,735.1 L910.5,733.3 L910.8,731.6 L911.1,735.2 L911.4,736.9 L911.7,730.8 L912.0,730.9 L912.3,739.0 L912.6,740.6 L912.9,738.5 L913.2,737.9 L913.5,738.9 L913.8,739.5 L914.1,739.6 L914.4,740.5 L914.7,742.1 L915.0,745.4 L915.3,745.4 L915.6,738.7 L915.9,737.0 L916.2,740.4 L916.5,733.9 L916.8,721.8 L917.1,726.1 L917.4,733.5 L917.7,725.4 L918.0,720.2 L918.3,728.9 L918.6,732.1 L918.9,724.1 L919.2,721.6 L919.5,724.7 L919.8,716.5 L920.1,706.5 L920.4,701.7 L920.7,697.8 L921.0,695.0 L921.3,691.2 L921.6,689.5 L921.9,687.4 L922.2,684.3 L922.5,681.5 L922.8,679.0 L923.1,677.3 L923.4,675.9 L923.7,675.3 L924.0,675.2 L924.3,673.6 L924.6,671.7 L924.9,669.2 L925.2,667.4 L925.5,667.7 L925.8,666.9 L926.1,664.7 L926.4,664.2 L926.7,664.5 L927.0,663.6 L927.3,662.5 L927.6,657.6 L927.9,653.6 L928.2,654.8 L928.5,655.3 L928.8,651.2 L929.1,647.4 L929.4,643.6 L929.7,643.7 L930.0,645.7 L930.3,640.4 L930.6,633.8 L930.9,635.1 L931.2,635.0 L931.5,629.3 L931.8,626.0 L932.1,626.0 L932.4,624.9 L932.7,624.0 L933.0,621.9 L933.3,618.8 L933.6,621.9 L933.9,627.5 L934.2,628.1 L934.5,627.6 L934.8,621.0 L935.1,616.6 L935.4,616.4 L935.7,616.7 L936.0,617.5 L936.3,617.6 L936.6,617.3 L936.9,613.1 L937.2,608.3 L937.5,607.3 L937.8,607.0 L938.1,610.3 L938.4,611.3 L938.7,608.0 L939.0,606.6 L939.3,606.6 L939.6,601.9 L939.9,596.1 L940.2,595.5 L940.5,596.0 L940.8,594.3 L941.1,593.1 L941.4,597.5 L941.7,599.7 L942.0,595.5 L942.3,594.0 L942.6,595.1 L942.9,596.0 L943.2,596.9 L943.5,596.6 L943.8,596.0 L944.1,596.0 L944.4,595.9 L944.7,594.4 L945.0,593.6 L945.3,595.0 L945.6,594.3 L945.9,591.3 L946.2,591.2 L946.5,592.4 L946.8,592.6 L947.1,592.1 L947.4,597.3 L947.7,602.2 L948.0,600.4 L948.3,596.8 L948.6,592.4 L948.9,591.8 L949.2,595.1 L949.5,594.5 L949.8,592.1 L950.1,597.6 L950.4,603.7 L950.7,603.0 L951.0,602.1 L951.3,598.5 L951.6,594.1 L951.9,588.0 L952.2,587.3 L952.5,592.0 L952.8,595.3 L953.1,596.8 L953.4,590.0 L953.7,581.4 L954.0,580.0 L954.3,578.9 L954.6,579.6 L954.9,583.0 L955.2,591.5 L955.5,591.9 L955.8,582.8 L956.1,577.9 L956.4,577.2 L956.7,583.8 L957.0,591.7 L957.3,586.8 L957.6,583.1 L957.9,585.2 L958.2,586.0 L958.5,582.4 L958.8,580.9 L959.1,580.9 L959.4,579.7 L959.7,578.6 L960.0,576.8 L960.3,574.2 L960.6,571.8 L960.9,570.3 L961.2,574.1 L961.5,575.2 L961.8,571.1 L962.1,573.6 L962.4,580.4 L962.7,582.2 L963.0,582.6 L963.3,585.5 L963.6,588.7 L963.9,589.1 L964.2,589.5 L964.5,591.6 L964.8,593.8 L965.1,596.5 L965.4,597.2 L965.7,594.9 L966.0,595.7 L966.3,598.1 L966.6,596.7 L966.9,594.5 L967.2,595.1 L967.5,596.4 L967.8,599.5 L968.1,602.2 L968.4,604.6 L968.7,605.2 L969.0,604.5 L969.3,600.8 L969.6,594.8 L969.9,594.1 L970.2,594.7 L970.5,601.2 L970.8,605.4 L971.1,594.5 L971.4,588.5 L971.7,591.6 L972.0,594.0 L972.3,595.6 L972.6,594.5 L972.9,592.3 L973.2,590.1 L973.5,588.1 L973.8,588.0 L974.1,587.0 L974.4,583.9 L974.7,582.3 L975.0,583.0 L975.3,583.6 L975.6,583.9 L975.9,583.5 L976.2,582.6 L976.5,581.5 L976.8,580.4 L977.1,581.6 L977.4,582.2 L977.7,580.6 L978.0,579.7 L978.3,579.8 L978.6,580.1 L978.9,580.8" fill="none" stroke="#000" stroke-width="6.4" stroke-linejoin="round"/>
</g>
<text x="115.0" y="339.9" text-anchor="middle" style="font-size:38.3px">0</text><text x="331.0" y="339.9" text-anchor="middle" style="font-size:38.3px">50</text><text x="547.0" y="339.9" text-anchor="middle" style="font-size:38.3px">100</text><text x="763.0" y="339.9" text-anchor="middle" style="font-size:38.3px">150</text><text x="979.0" y="339.9" text-anchor="middle" style="font-size:38.3px">200</text><text x="108" y="53.5" text-anchor="end" style="font-size:38.3px">2</text><text x="108" y="177.0" text-anchor="end" style="font-size:38.3px">0</text><text x="108" y="300.0" text-anchor="end" style="font-size:38.3px">−2</text><text transform="translate(548.0,376.70) scale(0.977,1)" text-anchor="middle" style="font-size:38.3px">Time (ms)</text><text transform="translate(47.8,163.45) rotate(-90) scale(0.98,1)" x="0" y="0" text-anchor="middle" style="font-size:38.0px">Sound pressure (Pa)</text><text x="511.1" y="443.0" text-anchor="middle">(<tspan font-weight="bold">a</tspan>)</text>
<text x="115.0" y="797.6" text-anchor="middle" style="font-size:38.3px">0</text><text x="331.2" y="797.6" text-anchor="middle" style="font-size:38.3px">50</text><text x="547.5" y="797.6" text-anchor="middle" style="font-size:38.3px">100</text><text x="763.8" y="797.6" text-anchor="middle" style="font-size:38.3px">150</text><text x="980.0" y="797.6" text-anchor="middle" style="font-size:38.3px">200</text><text x="108" y="511.0" text-anchor="end" style="font-size:38.3px">2</text><text x="108" y="634.6" text-anchor="end" style="font-size:38.3px">0</text><text x="108" y="757.7" text-anchor="end" style="font-size:38.3px">−2</text><text transform="translate(548.0,834.40) scale(0.977,1)" text-anchor="middle" style="font-size:38.3px">Time (ms)</text><text transform="translate(47.8,621.15) rotate(-90) scale(0.98,1)" x="0" y="0" text-anchor="middle" style="font-size:38.0px">Sound pressure (Pa)</text><text x="511.1" y="903.7" text-anchor="middle">(<tspan font-weight="bold">b</tspan>)</text>
</svg>
</body></html>
